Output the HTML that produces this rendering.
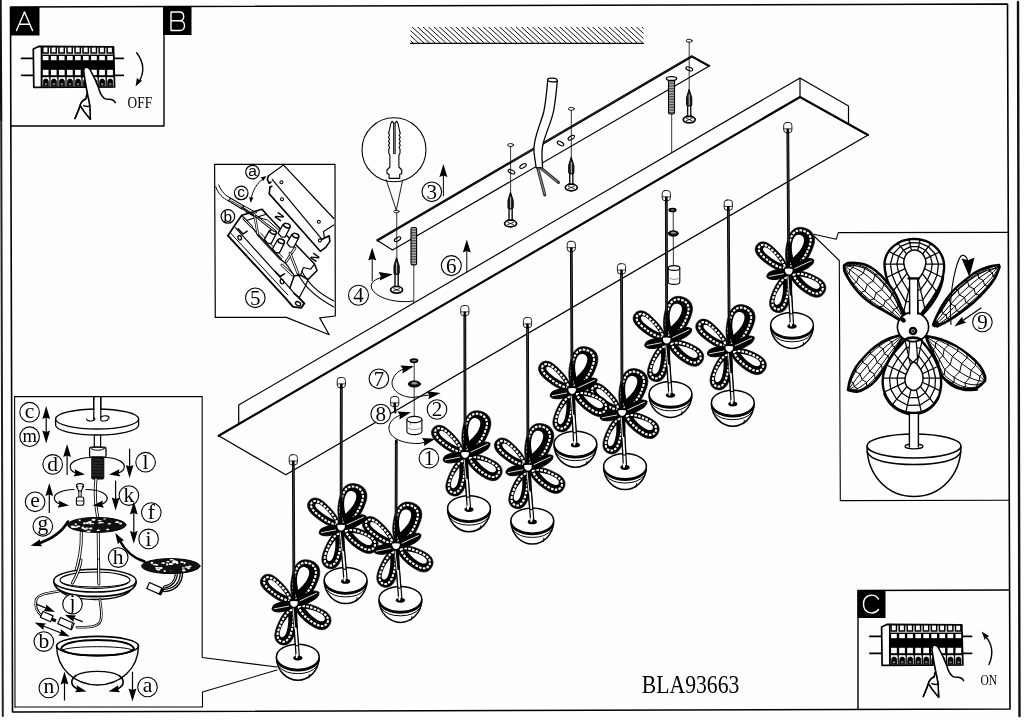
<!DOCTYPE html>
<html><head><meta charset="utf-8"><title>BLA93663</title>
<style>html,body{margin:0;padding:0;background:#fff;}svg{display:block;will-change:transform;}</style></head>
<body>
<svg width="1024" height="720" viewBox="0 0 1024 720" stroke-linecap="round" stroke-linejoin="round">
<defs><clipPath id="tclip"><rect x="215" y="165" width="119.6" height="152"/></clipPath><pattern id="thr" width="6" height="1.6" patternUnits="userSpaceOnUse"><rect width="6" height="1.6" fill="#bbb"/><rect width="6" height="0.8" fill="#444"/></pattern><clipPath id="hclip"><rect x="410.5" y="27" width="233" height="16.5"/></clipPath></defs>
<rect width="1024" height="720" fill="#fefefe"/>
<line x1="0.6" y1="0.0" x2="1.2" y2="120.0" stroke="#111" stroke-width="2.2" />
<line x1="1.2" y1="120.0" x2="2.8" y2="716.0" stroke="#222" stroke-width="2.0" />
<line x1="1018.0" y1="2.0" x2="1019.5" y2="716.0" stroke="#111" stroke-width="2.4" />
<path d="M10.5,7 L1007.5,4 L1010,709 L12.5,712 Z" stroke="#000" stroke-width="1.6" fill="none" />
<path d="M10.7,126 L164,126 L164,7" stroke="#000" stroke-width="1.4" fill="none" />
<rect x="10" y="7" width="29.5" height="28.5" fill="#000"/>
<rect x="163" y="6.5" width="28.5" height="28.5" fill="#000"/>
<path d="M16.5,30.5 L24.5,12 L32.5,30.5 M19.3,24.3 L29.7,24.3" stroke="#fff" stroke-width="1.4" fill="none" />
<path d="M171,12 L171,30.5 L180,30.5 C186,30.5 186,20.8 180,20.8 L171,20.8 M180,20.8 C185,20.8 185,12 179.5,12 L171,12" stroke="#fff" stroke-width="1.4" fill="none" />
<path d="M858,709 L858,590.5 L1009.5,590" stroke="#000" stroke-width="1.4" fill="none" />
<rect x="857.5" y="590" width="28" height="28" fill="#000"/>
<path d="M878.5,599 C874,592.5 863.5,594.5 863.5,604 C863.5,613.5 874,615.5 878.5,609.5" stroke="#fff" stroke-width="1.4" fill="none" />
<g transform="translate(0,0)">
<line x1="21.6" y1="58.4" x2="33.3" y2="58.4" stroke="#000" stroke-width="1.7" />
<line x1="114.6" y1="58.4" x2="123.3" y2="58.4" stroke="#000" stroke-width="1.7" />
<line x1="21.6" y1="75.3" x2="33.3" y2="75.3" stroke="#000" stroke-width="1.7" />
<line x1="114.6" y1="75.3" x2="123.3" y2="75.3" stroke="#000" stroke-width="1.7" />
<path d="M33.3,49 L38.5,46.4 L113.5,46.8 L114.6,87 L33.8,87.3 Z" stroke="#000" stroke-width="1.7" fill="#fff" />
<line x1="41.4" y1="46.6" x2="41.4" y2="87.0" stroke="#000" stroke-width="1.5" />
<rect x="41.4" y="54.6" width="73" height="22.6" fill="#000"/>
<path d="M42.8,47.0 L42.8,53.0 L48.2,53.0 L48.2,47.0" stroke="#000" stroke-width="1.5" fill="none" stroke-linejoin="miter" stroke-linecap="butt"/>
<rect x="42.8" y="56.0" width="5.7" height="4.2" fill="#fff"/>
<rect x="42.8" y="69.8" width="5.7" height="5.4" fill="#fff"/>
<line x1="41.8" y1="77.2" x2="41.8" y2="87.0" stroke="#000" stroke-width="1.3" />
<path d="M43.3,86.6 L43.3,81.8 A2.5,2.8 0 0 1 48.3,81.8 L48.3,86.6 Z" stroke="#000" stroke-width="0.8" fill="#000" />
<ellipse cx="45.8" cy="84.2" rx="1.2" ry="1.3" stroke="#000" stroke-width="0" fill="#777" />
<path d="M50.9,47.0 L50.9,53.0 L56.3,53.0 L56.3,47.0" stroke="#000" stroke-width="1.5" fill="none" stroke-linejoin="miter" stroke-linecap="butt"/>
<rect x="50.9" y="56.0" width="5.7" height="4.2" fill="#fff"/>
<rect x="50.9" y="69.8" width="5.7" height="5.4" fill="#fff"/>
<line x1="49.9" y1="77.2" x2="49.9" y2="87.0" stroke="#000" stroke-width="1.3" />
<path d="M51.4,86.6 L51.4,81.8 A2.5,2.8 0 0 1 56.4,81.8 L56.4,86.6 Z" stroke="#000" stroke-width="0.8" fill="#000" />
<ellipse cx="53.9" cy="84.2" rx="1.2" ry="1.3" stroke="#000" stroke-width="0" fill="#777" />
<path d="M58.9,47.0 L58.9,53.0 L64.3,53.0 L64.3,47.0" stroke="#000" stroke-width="1.5" fill="none" stroke-linejoin="miter" stroke-linecap="butt"/>
<rect x="58.9" y="56.0" width="5.7" height="4.2" fill="#fff"/>
<rect x="58.9" y="69.8" width="5.7" height="5.4" fill="#fff"/>
<line x1="57.9" y1="77.2" x2="57.9" y2="87.0" stroke="#000" stroke-width="1.3" />
<path d="M59.4,86.6 L59.4,81.8 A2.5,2.8 0 0 1 64.4,81.8 L64.4,86.6 Z" stroke="#000" stroke-width="0.8" fill="#000" />
<ellipse cx="61.9" cy="84.2" rx="1.2" ry="1.3" stroke="#000" stroke-width="0" fill="#777" />
<path d="M67.0,47.0 L67.0,53.0 L72.3,53.0 L72.3,47.0" stroke="#000" stroke-width="1.5" fill="none" stroke-linejoin="miter" stroke-linecap="butt"/>
<rect x="67.0" y="56.0" width="5.7" height="4.2" fill="#fff"/>
<rect x="67.0" y="69.8" width="5.7" height="5.4" fill="#fff"/>
<line x1="66.0" y1="77.2" x2="66.0" y2="87.0" stroke="#000" stroke-width="1.3" />
<path d="M67.5,86.6 L67.5,81.8 A2.5,2.8 0 0 1 72.5,81.8 L72.5,86.6 Z" stroke="#000" stroke-width="0.8" fill="#000" />
<ellipse cx="70.0" cy="84.2" rx="1.2" ry="1.3" stroke="#000" stroke-width="0" fill="#777" />
<path d="M75.0,47.0 L75.0,53.0 L80.4,53.0 L80.4,47.0" stroke="#000" stroke-width="1.5" fill="none" stroke-linejoin="miter" stroke-linecap="butt"/>
<rect x="75.0" y="56.0" width="5.7" height="4.2" fill="#fff"/>
<rect x="75.0" y="69.8" width="5.7" height="5.4" fill="#fff"/>
<line x1="74.0" y1="77.2" x2="74.0" y2="87.0" stroke="#000" stroke-width="1.3" />
<path d="M75.5,86.6 L75.5,81.8 A2.5,2.8 0 0 1 80.5,81.8 L80.5,86.6 Z" stroke="#000" stroke-width="0.8" fill="#000" />
<ellipse cx="78.0" cy="84.2" rx="1.2" ry="1.3" stroke="#000" stroke-width="0" fill="#777" />
<path d="M83.0,47.0 L83.0,53.0 L88.4,53.0 L88.4,47.0" stroke="#000" stroke-width="1.5" fill="none" stroke-linejoin="miter" stroke-linecap="butt"/>
<rect x="83.0" y="56.0" width="5.7" height="4.2" fill="#fff"/>
<rect x="83.0" y="69.8" width="5.7" height="5.4" fill="#fff"/>
<line x1="82.0" y1="77.2" x2="82.0" y2="87.0" stroke="#000" stroke-width="1.3" />
<path d="M83.5,86.6 L83.5,81.8 A2.5,2.8 0 0 1 88.5,81.8 L88.5,86.6 Z" stroke="#000" stroke-width="0.8" fill="#000" />
<ellipse cx="86.0" cy="84.2" rx="1.2" ry="1.3" stroke="#000" stroke-width="0" fill="#777" />
<path d="M91.1,47.0 L91.1,53.0 L96.5,53.0 L96.5,47.0" stroke="#000" stroke-width="1.5" fill="none" stroke-linejoin="miter" stroke-linecap="butt"/>
<rect x="91.1" y="56.0" width="5.7" height="4.2" fill="#fff"/>
<rect x="91.1" y="69.8" width="5.7" height="5.4" fill="#fff"/>
<line x1="90.1" y1="77.2" x2="90.1" y2="87.0" stroke="#000" stroke-width="1.3" />
<path d="M91.6,86.6 L91.6,81.8 A2.5,2.8 0 0 1 96.6,81.8 L96.6,86.6 Z" stroke="#000" stroke-width="0.8" fill="#000" />
<ellipse cx="94.1" cy="84.2" rx="1.2" ry="1.3" stroke="#000" stroke-width="0" fill="#777" />
<path d="M99.2,47.0 L99.2,53.0 L104.6,53.0 L104.6,47.0" stroke="#000" stroke-width="1.5" fill="none" stroke-linejoin="miter" stroke-linecap="butt"/>
<rect x="99.2" y="56.0" width="5.7" height="4.2" fill="#fff"/>
<rect x="99.2" y="69.8" width="5.7" height="5.4" fill="#fff"/>
<line x1="98.2" y1="77.2" x2="98.2" y2="87.0" stroke="#000" stroke-width="1.3" />
<path d="M99.7,86.6 L99.7,81.8 A2.5,2.8 0 0 1 104.7,81.8 L104.7,86.6 Z" stroke="#000" stroke-width="0.8" fill="#000" />
<ellipse cx="102.2" cy="84.2" rx="1.2" ry="1.3" stroke="#000" stroke-width="0" fill="#777" />
<path d="M107.2,47.0 L107.2,53.0 L112.6,53.0 L112.6,47.0" stroke="#000" stroke-width="1.5" fill="none" stroke-linejoin="miter" stroke-linecap="butt"/>
<rect x="107.2" y="56.0" width="5.7" height="4.2" fill="#fff"/>
<rect x="107.2" y="69.8" width="5.7" height="5.4" fill="#fff"/>
<line x1="106.2" y1="77.2" x2="106.2" y2="87.0" stroke="#000" stroke-width="1.3" />
<path d="M107.7,86.6 L107.7,81.8 A2.5,2.8 0 0 1 112.7,81.8 L112.7,86.6 Z" stroke="#000" stroke-width="0.8" fill="#000" />
<ellipse cx="110.2" cy="84.2" rx="1.2" ry="1.3" stroke="#000" stroke-width="0" fill="#777" />
<path d="M85.0,67.5 C83.6,68.8 83.6,70.5 83.9,72.5 L85.3,82 L87.5,93.6 L89.7,105.3 L90.4,119.2 L83.8,111.1 L80.2,105.3 C81,102 83,100.2 85.8,98.6 L87,93.6 M80.2,105.3 C78.5,111 76.5,114.5 75,118.5" stroke="#000" stroke-width="1.5" fill="none" />
<path d="M85.0,67.5 C83.6,68.8 83.6,70.5 83.9,72.5 L85.3,82 L87.5,93.6 L89.7,105.3 L90.4,119.2 L83.8,111.1 L80.2,105.3 C81,102 83,100.2 85.8,98.6 L100,95 L98.5,87.7 L94.8,78.9 L91.1,71.6 C90,69 88,66.6 85,67.5 Z" stroke="none" stroke-width="0" fill="#fff" />
<path d="M85.0,67.5 C83.6,68.8 83.6,70.5 83.9,72.5 L85.3,82 L87.5,93.6 L89.7,105.3 L90.4,119.2 L83.8,111.1 L80.2,105.3 C81,102 83,100.2 86.2,98.8 M80.2,105.3 C78.5,111 76.5,114.5 75,118.5 M83.6,105.6 C86,106.6 88.5,106.6 90.2,106 M85.0,67.5 C88,66.6 90,69 91.1,71.6 L94.8,78.9 L98.5,87.7 C99.5,91.5 101.5,96 104.3,98.3 C107,100 110.5,98.8 112.6,100 C114,100.8 114.8,101.6 115.3,102.6" stroke="#000" stroke-width="1.5" fill="none" />
</g>
<g transform="translate(848.3,578)">
<line x1="21.6" y1="58.4" x2="33.3" y2="58.4" stroke="#000" stroke-width="1.7" />
<line x1="114.6" y1="58.4" x2="123.3" y2="58.4" stroke="#000" stroke-width="1.7" />
<line x1="21.6" y1="75.3" x2="33.3" y2="75.3" stroke="#000" stroke-width="1.7" />
<line x1="114.6" y1="75.3" x2="123.3" y2="75.3" stroke="#000" stroke-width="1.7" />
<path d="M33.3,49 L38.5,46.4 L113.5,46.8 L114.6,87 L33.8,87.3 Z" stroke="#000" stroke-width="1.7" fill="#fff" />
<line x1="41.4" y1="46.6" x2="41.4" y2="87.0" stroke="#000" stroke-width="1.5" />
<rect x="41.4" y="54.6" width="73" height="22.6" fill="#000"/>
<path d="M42.8,47.0 L42.8,53.0 L48.2,53.0 L48.2,47.0" stroke="#000" stroke-width="1.5" fill="none" stroke-linejoin="miter" stroke-linecap="butt"/>
<rect x="42.8" y="56.0" width="5.7" height="4.2" fill="#fff"/>
<rect x="42.8" y="69.8" width="5.7" height="5.4" fill="#fff"/>
<line x1="41.8" y1="77.2" x2="41.8" y2="87.0" stroke="#000" stroke-width="1.3" />
<path d="M43.3,86.6 L43.3,81.8 A2.5,2.8 0 0 1 48.3,81.8 L48.3,86.6 Z" stroke="#000" stroke-width="0.8" fill="#000" />
<ellipse cx="45.8" cy="84.2" rx="1.2" ry="1.3" stroke="#000" stroke-width="0" fill="#777" />
<path d="M50.9,47.0 L50.9,53.0 L56.3,53.0 L56.3,47.0" stroke="#000" stroke-width="1.5" fill="none" stroke-linejoin="miter" stroke-linecap="butt"/>
<rect x="50.9" y="56.0" width="5.7" height="4.2" fill="#fff"/>
<rect x="50.9" y="69.8" width="5.7" height="5.4" fill="#fff"/>
<line x1="49.9" y1="77.2" x2="49.9" y2="87.0" stroke="#000" stroke-width="1.3" />
<path d="M51.4,86.6 L51.4,81.8 A2.5,2.8 0 0 1 56.4,81.8 L56.4,86.6 Z" stroke="#000" stroke-width="0.8" fill="#000" />
<ellipse cx="53.9" cy="84.2" rx="1.2" ry="1.3" stroke="#000" stroke-width="0" fill="#777" />
<path d="M58.9,47.0 L58.9,53.0 L64.3,53.0 L64.3,47.0" stroke="#000" stroke-width="1.5" fill="none" stroke-linejoin="miter" stroke-linecap="butt"/>
<rect x="58.9" y="56.0" width="5.7" height="4.2" fill="#fff"/>
<rect x="58.9" y="69.8" width="5.7" height="5.4" fill="#fff"/>
<line x1="57.9" y1="77.2" x2="57.9" y2="87.0" stroke="#000" stroke-width="1.3" />
<path d="M59.4,86.6 L59.4,81.8 A2.5,2.8 0 0 1 64.4,81.8 L64.4,86.6 Z" stroke="#000" stroke-width="0.8" fill="#000" />
<ellipse cx="61.9" cy="84.2" rx="1.2" ry="1.3" stroke="#000" stroke-width="0" fill="#777" />
<path d="M67.0,47.0 L67.0,53.0 L72.3,53.0 L72.3,47.0" stroke="#000" stroke-width="1.5" fill="none" stroke-linejoin="miter" stroke-linecap="butt"/>
<rect x="67.0" y="56.0" width="5.7" height="4.2" fill="#fff"/>
<rect x="67.0" y="69.8" width="5.7" height="5.4" fill="#fff"/>
<line x1="66.0" y1="77.2" x2="66.0" y2="87.0" stroke="#000" stroke-width="1.3" />
<path d="M67.5,86.6 L67.5,81.8 A2.5,2.8 0 0 1 72.5,81.8 L72.5,86.6 Z" stroke="#000" stroke-width="0.8" fill="#000" />
<ellipse cx="70.0" cy="84.2" rx="1.2" ry="1.3" stroke="#000" stroke-width="0" fill="#777" />
<path d="M75.0,47.0 L75.0,53.0 L80.4,53.0 L80.4,47.0" stroke="#000" stroke-width="1.5" fill="none" stroke-linejoin="miter" stroke-linecap="butt"/>
<rect x="75.0" y="56.0" width="5.7" height="4.2" fill="#fff"/>
<rect x="75.0" y="69.8" width="5.7" height="5.4" fill="#fff"/>
<line x1="74.0" y1="77.2" x2="74.0" y2="87.0" stroke="#000" stroke-width="1.3" />
<path d="M75.5,86.6 L75.5,81.8 A2.5,2.8 0 0 1 80.5,81.8 L80.5,86.6 Z" stroke="#000" stroke-width="0.8" fill="#000" />
<ellipse cx="78.0" cy="84.2" rx="1.2" ry="1.3" stroke="#000" stroke-width="0" fill="#777" />
<path d="M83.0,47.0 L83.0,53.0 L88.4,53.0 L88.4,47.0" stroke="#000" stroke-width="1.5" fill="none" stroke-linejoin="miter" stroke-linecap="butt"/>
<rect x="83.0" y="56.0" width="5.7" height="4.2" fill="#fff"/>
<rect x="83.0" y="69.8" width="5.7" height="5.4" fill="#fff"/>
<line x1="82.0" y1="77.2" x2="82.0" y2="87.0" stroke="#000" stroke-width="1.3" />
<path d="M83.5,86.6 L83.5,81.8 A2.5,2.8 0 0 1 88.5,81.8 L88.5,86.6 Z" stroke="#000" stroke-width="0.8" fill="#000" />
<ellipse cx="86.0" cy="84.2" rx="1.2" ry="1.3" stroke="#000" stroke-width="0" fill="#777" />
<path d="M91.1,47.0 L91.1,53.0 L96.5,53.0 L96.5,47.0" stroke="#000" stroke-width="1.5" fill="none" stroke-linejoin="miter" stroke-linecap="butt"/>
<rect x="91.1" y="56.0" width="5.7" height="4.2" fill="#fff"/>
<rect x="91.1" y="69.8" width="5.7" height="5.4" fill="#fff"/>
<line x1="90.1" y1="77.2" x2="90.1" y2="87.0" stroke="#000" stroke-width="1.3" />
<path d="M91.6,86.6 L91.6,81.8 A2.5,2.8 0 0 1 96.6,81.8 L96.6,86.6 Z" stroke="#000" stroke-width="0.8" fill="#000" />
<ellipse cx="94.1" cy="84.2" rx="1.2" ry="1.3" stroke="#000" stroke-width="0" fill="#777" />
<path d="M99.2,47.0 L99.2,53.0 L104.6,53.0 L104.6,47.0" stroke="#000" stroke-width="1.5" fill="none" stroke-linejoin="miter" stroke-linecap="butt"/>
<rect x="99.2" y="56.0" width="5.7" height="4.2" fill="#fff"/>
<rect x="99.2" y="69.8" width="5.7" height="5.4" fill="#fff"/>
<line x1="98.2" y1="77.2" x2="98.2" y2="87.0" stroke="#000" stroke-width="1.3" />
<path d="M99.7,86.6 L99.7,81.8 A2.5,2.8 0 0 1 104.7,81.8 L104.7,86.6 Z" stroke="#000" stroke-width="0.8" fill="#000" />
<ellipse cx="102.2" cy="84.2" rx="1.2" ry="1.3" stroke="#000" stroke-width="0" fill="#777" />
<path d="M107.2,47.0 L107.2,53.0 L112.6,53.0 L112.6,47.0" stroke="#000" stroke-width="1.5" fill="none" stroke-linejoin="miter" stroke-linecap="butt"/>
<rect x="107.2" y="56.0" width="5.7" height="4.2" fill="#fff"/>
<rect x="107.2" y="69.8" width="5.7" height="5.4" fill="#fff"/>
<line x1="106.2" y1="77.2" x2="106.2" y2="87.0" stroke="#000" stroke-width="1.3" />
<path d="M107.7,86.6 L107.7,81.8 A2.5,2.8 0 0 1 112.7,81.8 L112.7,86.6 Z" stroke="#000" stroke-width="0.8" fill="#000" />
<ellipse cx="110.2" cy="84.2" rx="1.2" ry="1.3" stroke="#000" stroke-width="0" fill="#777" />
<path d="M85.0,67.5 C83.6,68.8 83.6,70.5 83.9,72.5 L85.3,82 L87.5,93.6 L89.7,105.3 L90.4,119.2 L83.8,111.1 L80.2,105.3 C81,102 83,100.2 85.8,98.6 L87,93.6 M80.2,105.3 C78.5,111 76.5,114.5 75,118.5" stroke="#000" stroke-width="1.5" fill="none" />
<path d="M85.0,67.5 C83.6,68.8 83.6,70.5 83.9,72.5 L85.3,82 L87.5,93.6 L89.7,105.3 L90.4,119.2 L83.8,111.1 L80.2,105.3 C81,102 83,100.2 85.8,98.6 L100,95 L98.5,87.7 L94.8,78.9 L91.1,71.6 C90,69 88,66.6 85,67.5 Z" stroke="none" stroke-width="0" fill="#fff" />
<path d="M85.0,67.5 C83.6,68.8 83.6,70.5 83.9,72.5 L85.3,82 L87.5,93.6 L89.7,105.3 L90.4,119.2 L83.8,111.1 L80.2,105.3 C81,102 83,100.2 86.2,98.8 M80.2,105.3 C78.5,111 76.5,114.5 75,118.5 M83.6,105.6 C86,106.6 88.5,106.6 90.2,106 M85.0,67.5 C88,66.6 90,69 91.1,71.6 L94.8,78.9 L98.5,87.7 C99.5,91.5 101.5,96 104.3,98.3 C107,100 110.5,98.8 112.6,100 C114,100.8 114.8,101.6 115.3,102.6" stroke="#000" stroke-width="1.5" fill="none" />
</g>
<path d="M136.6,52.8 C144.5,63 144.5,73 138.6,82.5" stroke="#000" stroke-width="1.4" fill="none" />
<polygon points="135.6,86.6 136.9,77.7 139.1,80.0 142.2,80.5" fill="#000"/>
<text x="127.6" y="107.6" font-family="Liberation Serif" font-size="17" textLength="24.5" lengthAdjust="spacingAndGlyphs">OFF</text>
<path d="M989,664.5 C994,653 991.5,643 985.2,636" stroke="#000" stroke-width="1.4" fill="none" />
<polygon points="981.6,631.6 989.4,636.2 986.4,637.3 984.8,640.0" fill="#000"/>
<text x="980.4" y="685" font-family="Liberation Serif" font-size="15.5" textLength="16.6" lengthAdjust="spacingAndGlyphs">ON</text>
<text x="641.8" y="693" font-family="Liberation Serif" font-size="25" textLength="97.5" lengthAdjust="spacingAndGlyphs">BLA93663</text>
<line x1="410.5" y1="43.3" x2="643.5" y2="43.3" stroke="#000" stroke-width="1.2" />
<g clip-path="url(#hclip)">
<line x1="387.0" y1="24.0" x2="409.0" y2="44.3" stroke="#111" stroke-width="1.0" />
<line x1="392.5" y1="24.0" x2="414.5" y2="44.3" stroke="#111" stroke-width="1.0" />
<line x1="397.9" y1="24.0" x2="419.9" y2="44.3" stroke="#111" stroke-width="1.0" />
<line x1="403.4" y1="24.0" x2="425.4" y2="44.3" stroke="#111" stroke-width="1.0" />
<line x1="408.9" y1="24.0" x2="430.9" y2="44.3" stroke="#111" stroke-width="1.0" />
<line x1="414.4" y1="24.0" x2="436.4" y2="44.3" stroke="#111" stroke-width="1.0" />
<line x1="419.8" y1="24.0" x2="441.8" y2="44.3" stroke="#111" stroke-width="1.0" />
<line x1="425.3" y1="24.0" x2="447.3" y2="44.3" stroke="#111" stroke-width="1.0" />
<line x1="430.8" y1="24.0" x2="452.8" y2="44.3" stroke="#111" stroke-width="1.0" />
<line x1="436.2" y1="24.0" x2="458.2" y2="44.3" stroke="#111" stroke-width="1.0" />
<line x1="441.7" y1="24.0" x2="463.7" y2="44.3" stroke="#111" stroke-width="1.0" />
<line x1="447.2" y1="24.0" x2="469.2" y2="44.3" stroke="#111" stroke-width="1.0" />
<line x1="452.6" y1="24.0" x2="474.6" y2="44.3" stroke="#111" stroke-width="1.0" />
<line x1="458.1" y1="24.0" x2="480.1" y2="44.3" stroke="#111" stroke-width="1.0" />
<line x1="463.6" y1="24.0" x2="485.6" y2="44.3" stroke="#111" stroke-width="1.0" />
<line x1="469.1" y1="24.0" x2="491.1" y2="44.3" stroke="#111" stroke-width="1.0" />
<line x1="474.5" y1="24.0" x2="496.5" y2="44.3" stroke="#111" stroke-width="1.0" />
<line x1="480.0" y1="24.0" x2="502.0" y2="44.3" stroke="#111" stroke-width="1.0" />
<line x1="485.5" y1="24.0" x2="507.5" y2="44.3" stroke="#111" stroke-width="1.0" />
<line x1="490.9" y1="24.0" x2="512.9" y2="44.3" stroke="#111" stroke-width="1.0" />
<line x1="496.4" y1="24.0" x2="518.4" y2="44.3" stroke="#111" stroke-width="1.0" />
<line x1="501.9" y1="24.0" x2="523.9" y2="44.3" stroke="#111" stroke-width="1.0" />
<line x1="507.3" y1="24.0" x2="529.3" y2="44.3" stroke="#111" stroke-width="1.0" />
<line x1="512.8" y1="24.0" x2="534.8" y2="44.3" stroke="#111" stroke-width="1.0" />
<line x1="518.3" y1="24.0" x2="540.3" y2="44.3" stroke="#111" stroke-width="1.0" />
<line x1="523.8" y1="24.0" x2="545.8" y2="44.3" stroke="#111" stroke-width="1.0" />
<line x1="529.2" y1="24.0" x2="551.2" y2="44.3" stroke="#111" stroke-width="1.0" />
<line x1="534.7" y1="24.0" x2="556.7" y2="44.3" stroke="#111" stroke-width="1.0" />
<line x1="540.2" y1="24.0" x2="562.2" y2="44.3" stroke="#111" stroke-width="1.0" />
<line x1="545.6" y1="24.0" x2="567.6" y2="44.3" stroke="#111" stroke-width="1.0" />
<line x1="551.1" y1="24.0" x2="573.1" y2="44.3" stroke="#111" stroke-width="1.0" />
<line x1="556.6" y1="24.0" x2="578.6" y2="44.3" stroke="#111" stroke-width="1.0" />
<line x1="562.0" y1="24.0" x2="584.0" y2="44.3" stroke="#111" stroke-width="1.0" />
<line x1="567.5" y1="24.0" x2="589.5" y2="44.3" stroke="#111" stroke-width="1.0" />
<line x1="573.0" y1="24.0" x2="595.0" y2="44.3" stroke="#111" stroke-width="1.0" />
<line x1="578.5" y1="24.0" x2="600.5" y2="44.3" stroke="#111" stroke-width="1.0" />
<line x1="583.9" y1="24.0" x2="605.9" y2="44.3" stroke="#111" stroke-width="1.0" />
<line x1="589.4" y1="24.0" x2="611.4" y2="44.3" stroke="#111" stroke-width="1.0" />
<line x1="594.9" y1="24.0" x2="616.9" y2="44.3" stroke="#111" stroke-width="1.0" />
<line x1="600.3" y1="24.0" x2="622.3" y2="44.3" stroke="#111" stroke-width="1.0" />
<line x1="605.8" y1="24.0" x2="627.8" y2="44.3" stroke="#111" stroke-width="1.0" />
<line x1="611.3" y1="24.0" x2="633.3" y2="44.3" stroke="#111" stroke-width="1.0" />
<line x1="616.7" y1="24.0" x2="638.7" y2="44.3" stroke="#111" stroke-width="1.0" />
<line x1="622.2" y1="24.0" x2="644.2" y2="44.3" stroke="#111" stroke-width="1.0" />
<line x1="627.7" y1="24.0" x2="649.7" y2="44.3" stroke="#111" stroke-width="1.0" />
<line x1="633.2" y1="24.0" x2="655.2" y2="44.3" stroke="#111" stroke-width="1.0" />
<line x1="638.6" y1="24.0" x2="660.6" y2="44.3" stroke="#111" stroke-width="1.0" />
<line x1="644.1" y1="24.0" x2="666.1" y2="44.3" stroke="#111" stroke-width="1.0" />
<line x1="649.6" y1="24.0" x2="671.6" y2="44.3" stroke="#111" stroke-width="1.0" />
<line x1="655.0" y1="24.0" x2="677.0" y2="44.3" stroke="#111" stroke-width="1.0" />
<line x1="660.5" y1="24.0" x2="682.5" y2="44.3" stroke="#111" stroke-width="1.0" />
</g>
<path d="M218.7,435.8 L800,97 L868,135" stroke="#000" stroke-width="2.2" fill="none" stroke-linejoin="miter"/>
<path d="M868,135 L285.8,474.7 L218.7,435.8" stroke="#000" stroke-width="1.3" fill="none" />
<path d="M238.7,424 L238.7,405 L800,78 L800,97 M800,78 L848.5,106 L848.5,123.5" stroke="#000" stroke-width="1.2" fill="none" />
<path d="M376.7,240 L691.7,55.7 L709.7,65.8 L392.5,250 Z" stroke="#000" stroke-width="1.2" fill="#fff" />
<path d="M377.4,240.9 L692,56.8 L709,66.4" stroke="#000" stroke-width="1.4" fill="none" />
<ellipse cx="397.5" cy="239.2" rx="3.6" ry="1.7" stroke="#000" stroke-width="1.1" fill="none" transform="rotate(-30 397.5 239.2)" />
<ellipse cx="511.5" cy="171.7" rx="3.6" ry="1.7" stroke="#000" stroke-width="1.1" fill="none" transform="rotate(25 511.5 171.7)" />
<ellipse cx="523.0" cy="166.0" rx="3.6" ry="1.7" stroke="#000" stroke-width="1.1" fill="none" transform="rotate(-30 523.0 166.0)" />
<ellipse cx="560.5" cy="143.5" rx="3.6" ry="1.7" stroke="#000" stroke-width="1.1" fill="none" transform="rotate(30 560.5 143.5)" />
<ellipse cx="571.3" cy="137.7" rx="3.6" ry="1.7" stroke="#000" stroke-width="1.1" fill="none" transform="rotate(-30 571.3 137.7)" />
<ellipse cx="689.3" cy="68.9" rx="3.6" ry="1.7" stroke="#000" stroke-width="1.1" fill="none" transform="rotate(20 689.3 68.9)" />
<ellipse cx="689.2" cy="40.8" rx="3.0" ry="1.5" stroke="#000" stroke-width="0.9" fill="none" />
<line x1="689.2" y1="42.3" x2="689.2" y2="91.7" stroke="#000" stroke-width="0.8" />
<path d="M689.2,89.7 L691.8,97.7 L691.8,104.7 L690.9,106.7 L690.9,114.6 L692.7,117.6 L685.7,117.6 L687.5,114.6 L687.5,106.7 L686.6,104.7 L686.6,97.7 Z" stroke="#000" stroke-width="1.0" fill="#1a1a1a" />
<line x1="689.2" y1="94.7" x2="689.2" y2="104.7" stroke="#ddd" stroke-width="0.9" />
<line x1="689.2" y1="107.2" x2="689.2" y2="115.6" stroke="#fff" stroke-width="1.7" />
<ellipse cx="689.2" cy="119.6" rx="6.0" ry="3.3" stroke="#000" stroke-width="1.7" fill="#fff" />
<path d="M686.2,118.4 L692.2,120.8 M686.2,120.8 L692.2,118.4" stroke="#000" stroke-width="0.8" fill="none" />
<ellipse cx="571.3" cy="108.8" rx="3.0" ry="1.5" stroke="#000" stroke-width="0.9" fill="none" />
<line x1="571.3" y1="110.3" x2="571.3" y2="159.5" stroke="#000" stroke-width="0.8" />
<path d="M571.3,157.5 L573.9,165.5 L573.9,172.5 L573.0,174.5 L573.0,182.5 L574.8,185.5 L567.8,185.5 L569.6,182.5 L569.6,174.5 L568.7,172.5 L568.7,165.5 Z" stroke="#000" stroke-width="1.0" fill="#1a1a1a" />
<line x1="571.3" y1="162.5" x2="571.3" y2="172.5" stroke="#ddd" stroke-width="0.9" />
<line x1="571.3" y1="175.0" x2="571.3" y2="183.5" stroke="#fff" stroke-width="1.7" />
<ellipse cx="571.3" cy="187.5" rx="6.0" ry="3.3" stroke="#000" stroke-width="1.7" fill="#fff" />
<path d="M568.3,186.3 L574.3,188.7 M568.3,188.7 L574.3,186.3" stroke="#000" stroke-width="0.8" fill="none" />
<ellipse cx="510.6" cy="145.0" rx="3.0" ry="1.5" stroke="#000" stroke-width="0.9" fill="none" />
<line x1="510.6" y1="146.5" x2="510.6" y2="194.5" stroke="#000" stroke-width="0.8" />
<path d="M510.6,192.5 L513.2,200.5 L513.2,207.5 L512.3,209.5 L512.3,218.5 L514.1,221.5 L507.1,221.5 L508.9,218.5 L508.9,209.5 L508.0,207.5 L508.0,200.5 Z" stroke="#000" stroke-width="1.0" fill="#1a1a1a" />
<line x1="510.6" y1="197.5" x2="510.6" y2="207.5" stroke="#ddd" stroke-width="0.9" />
<line x1="510.6" y1="210.0" x2="510.6" y2="219.5" stroke="#fff" stroke-width="1.7" />
<ellipse cx="510.6" cy="223.5" rx="6.0" ry="3.3" stroke="#000" stroke-width="1.7" fill="#fff" />
<path d="M507.6,222.3 L513.6,224.7 M507.6,224.7 L513.6,222.3" stroke="#000" stroke-width="0.8" fill="none" />
<line x1="671.7" y1="114.0" x2="671.7" y2="152.0" stroke="#000" stroke-width="0.8" />
<rect x="668.5" y="78.6" width="6.0" height="35.4" rx="1.5" fill="url(#thr)" stroke="#000" stroke-width="1.1"/>
<ellipse cx="671.5" cy="78.6" rx="5.2" ry="1.9" stroke="#000" stroke-width="1.3" fill="#fff" />
<line x1="413.8" y1="264.0" x2="413.8" y2="303.0" stroke="#000" stroke-width="0.8" />
<rect x="411.0" y="227.5" width="5.6" height="37.5" rx="1.5" fill="url(#thr)" stroke="#000" stroke-width="1.1"/>
<ellipse cx="396.5" cy="211.5" rx="2.6" ry="1.3" stroke="#000" stroke-width="0.9" fill="none" />
<line x1="396.7" y1="213.0" x2="396.9" y2="262.0" stroke="#000" stroke-width="0.8" />
<path d="M396.6,258.0 L399.2,266.0 L399.2,273.0 L398.3,275.0 L398.3,284.8 L400.1,287.8 L393.1,287.8 L394.9,284.8 L394.9,275.0 L394.0,273.0 L394.0,266.0 Z" stroke="#000" stroke-width="1.0" fill="#1a1a1a" />
<line x1="396.6" y1="263.0" x2="396.6" y2="273.0" stroke="#ddd" stroke-width="0.9" />
<line x1="396.6" y1="275.5" x2="396.6" y2="285.8" stroke="#fff" stroke-width="1.7" />
<ellipse cx="396.6" cy="289.8" rx="6.0" ry="3.3" stroke="#000" stroke-width="1.7" fill="#fff" />
<path d="M393.6,288.6 L399.6,291.0 M393.6,291.0 L399.6,288.6" stroke="#000" stroke-width="0.8" fill="none" />
<path d="M547.7,80 C546.5,95 545.5,104 543.7,112 C540,126 532.5,140 534,152 C534.6,158 535.5,163 536.2,168 L542.6,167.5 C542.2,160 541,152 543,144 C546,132 551.5,122 553.8,110 C555.5,100 556.5,90 557.3,81" stroke="#000" stroke-width="1.3" fill="#fff" />
<ellipse cx="552.5" cy="80.0" rx="4.9" ry="1.9" stroke="#000" stroke-width="1.3" fill="#fff" transform="rotate(5 552.5 80.0)" />
<line x1="538.0" y1="169.0" x2="544.8" y2="195.0" stroke="#333" stroke-width="3.0" />
<line x1="541.5" y1="168.5" x2="558.5" y2="182.5" stroke="#333" stroke-width="3.0" />
<line x1="538.2" y1="170.0" x2="544.6" y2="194.0" stroke="#bbb" stroke-width="0.7" />
<line x1="542.5" y1="169.5" x2="557.6" y2="182.0" stroke="#bbb" stroke-width="0.7" />
<ellipse cx="394.0" cy="149.8" rx="32.0" ry="32.0" stroke="#000" stroke-width="1.1" fill="#fff" />
<path d="M386.2,179.8 L396.3,210.3 L402.6,180.2" stroke="#000" stroke-width="0.9" fill="none" />
<path d="M395.1,123.0 L396.8,121.2 L398.0,123.5 L399.7,131.5 L400.3,133.5 L399.2,135.0 L400.3,137.5 L399.2,139.0 L400.3,141.5 L399.2,143.0 L400.3,145.5 L399.2,147.0 L400.1,150.0 L399.9,153.5 L398.9,155.5 L398.9,167.0 L401.8,170.0 L401.8,173.6 L399.7,174.2 L399.7,178.4 L389.1,178.4 L389.1,174.2 L387.0,173.6 L387.0,170.0 L389.9,167.0 L389.9,155.5 L388.9,153.5 L388.7,150.0 L389.6,147.0 L388.5,145.5 L389.6,143.0 L388.5,141.5 L389.6,139.0 L388.5,137.5 L389.6,135.0 L388.5,133.5 L389.1,131.5 L390.8,123.5 L392.0,121.2 L393.7,123.0 L393.7,153.5 L395.1,153.5 Z" stroke="#000" stroke-width="1.1" fill="#fff" />
<line x1="394.4" y1="124.0" x2="394.4" y2="153.0" stroke="#888" stroke-width="0.7" />
<ellipse cx="431.8" cy="191.8" rx="9.8" ry="9.8" stroke="#000" stroke-width="1.1" fill="#fff" />
<text x="431.8" y="198.7" font-family="Liberation Serif" font-size="21" text-anchor="middle" fill="#000" >3</text>
<line x1="443.4" y1="196.0" x2="443.4" y2="171.8" stroke="#000" stroke-width="1.0" />
<polygon points="443.4,164.0 447.4,177.0 443.4,175.4 439.4,177.0" fill="#000"/>
<ellipse cx="451.3" cy="265.6" rx="10.0" ry="10.0" stroke="#000" stroke-width="1.1" fill="#fff" />
<text x="451.3" y="272.5" font-family="Liberation Serif" font-size="21" text-anchor="middle" fill="#000" >6</text>
<line x1="466.8" y1="272.0" x2="466.8" y2="247.3" stroke="#000" stroke-width="1.0" />
<polygon points="466.8,239.5 470.8,252.5 466.8,250.9 462.8,252.5" fill="#000"/>
<ellipse cx="358.5" cy="295.3" rx="10.0" ry="10.0" stroke="#000" stroke-width="1.1" fill="#fff" />
<text x="358.5" y="302.2" font-family="Liberation Serif" font-size="21" text-anchor="middle" fill="#000" >4</text>
<line x1="372.2" y1="281.0" x2="372.2" y2="255.3" stroke="#000" stroke-width="1.0" />
<polygon points="372.2,247.5 376.2,260.5 372.2,258.9 368.2,260.5" fill="#000"/>
<path d="M413.5,301 C398,303.5 376,299 371.5,288 C370,282.5 375,279 382,277.5" stroke="#000" stroke-width="1.0" fill="none" />
<polygon points="393.0,274.3 379.7,280.4 380.8,276.0 378.6,272.1" fill="#000"/>
<path d="M214.6,164.4 L335,164.4 L335.3,316 L319.7,317.9 L329.2,334.7 L286.4,317.4 L215.3,317.4 Z" stroke="#000" stroke-width="1.2" fill="#fff" />
<g clip-path="url(#tclip)">
<path d="M268.5,175.8 L283.5,165.1 L333.8,218.5 " stroke="#000" stroke-width="1.2" fill="none" />
<path d="M268.5,175.8 L267.3,179.4 L269.2,183.3 L270.9,182.0 " stroke="#000" stroke-width="1.6" fill="none" />
<path d="M272.2,179.4 L322.0,239.3 " stroke="#000" stroke-width="1.2" fill="none" />
<path d="M270.0,187.1 L269.2,193.9 L271.3,196.1 L320.3,251.3 L325.7,247.4 L329.9,241.4 L329.1,235.7 L322.2,239.3 " stroke="#000" stroke-width="1.6" fill="none" />
<path d="M271.8,186.2 L270.0,187.1 " stroke="#000" stroke-width="1.6" fill="none" />
<path d="M333.8,225.0 L323.5,231.6 L324.4,237.8 " stroke="#000" stroke-width="1.2" fill="none" />
<ellipse cx="281.4" cy="182.2" rx="1.5" ry="1.5" stroke="#000" stroke-width="1.1" fill="none" />
<ellipse cx="282.0" cy="199.3" rx="1.5" ry="1.5" stroke="#000" stroke-width="1.1" fill="none" />
<ellipse cx="318.8" cy="221.8" rx="1.5" ry="1.5" stroke="#000" stroke-width="1.1" fill="none" />
<ellipse cx="319.9" cy="240.4" rx="1.5" ry="1.5" stroke="#000" stroke-width="1.1" fill="none" />
<path d="M263.6,178.1 C256.8,183.3 252.5,190.7 251.0,199.3 " stroke="#000" stroke-width="1.0" fill="none" />
<polygon points="266.6,176.0 263.0,181.2 262.3,179.0 260.4,177.6" fill="#000"/>
<polygon points="250.6,202.9 249.1,196.7 251.2,197.7 253.5,197.2" fill="#000"/>
<path d="M215.7,186.7 C218.3,193.9 222.6,198.2 228.5,200.8 " stroke="#000" stroke-width="1.0" fill="none" />
<path d="M218.7,185.0 C221.3,191.4 225.1,195.7 230.7,198.2 " stroke="#000" stroke-width="1.0" fill="none" />
<path d="M228.5,200.8 L230.7,198.2 L243.9,205.9 L242.2,209.3 Z" stroke="#000" stroke-width="1.1" fill="#fff" />
<path d="M231.1,200.8 L242.2,207.2 " stroke="#000" stroke-width="0.8" fill="none" />
<path d="M242.2,207.9 L253.6,215.3 " stroke="#222" stroke-width="2.6" fill="none" />
<path d="M243.9,205.9 L256.8,212.8 " stroke="#000" stroke-width="1.0" fill="none" />
<path d="M246.1,212.1 L260.0,217.5 " stroke="#000" stroke-width="1.0" fill="none" />
<path d="M227.9,235.7 L234.3,226.0 L241.8,215.3 L262.1,209.3 L266.6,214.5 " stroke="#000" stroke-width="1.7" fill="none" />
<path d="M227.9,235.7 L285.7,298.3 L293.1,306.9 L301.3,307.7 L304.3,303.5 L299.1,297.9 L294.4,293.6 " stroke="#000" stroke-width="1.9" fill="none" />
<path d="M230.5,232.9 L287.8,294.9 " stroke="#000" stroke-width="1.0" fill="none" />
<path d="M235.4,227.7 L289.9,288.1 L294.4,293.6 " stroke="#000" stroke-width="1.2" fill="none" />
<path d="M241.8,215.3 L246.5,220.5 L265.3,214.5 " stroke="#000" stroke-width="1.2" fill="none" />
<path d="M246.5,220.5 L257.9,234.6 " stroke="#000" stroke-width="1.2" fill="none" />
<path d="M257.9,234.6 L280.7,259.2 " stroke="#222" stroke-width="2.6" fill="none" />
<path d="M260.6,232.9 L282.9,257.3 " stroke="#000" stroke-width="0.9" fill="none" />
<path d="M266.6,214.5 L284.6,233.5 L299.6,248.5 L314.5,264.1 L317.1,270.5 L308.1,279.5 L300.6,275.2 L294.2,275.7 L289.9,288.1 " stroke="#000" stroke-width="1.5" fill="none" />
<path d="M300.6,275.2 L303.4,267.5 L310.7,269.2 L314.5,264.1 " stroke="#000" stroke-width="1.1" fill="none" />
<path d="M280.7,259.2 L286.7,264.5 L294.2,275.7 " stroke="#000" stroke-width="1.2" fill="none" />
<path d="M308.1,279.5 L304.9,287.0 L299.1,297.9 " stroke="#000" stroke-width="1.2" fill="none" />
<ellipse cx="239.7" cy="237.8" rx="1.7" ry="2.3" stroke="#000" stroke-width="1.3" fill="none" transform="rotate(-20 239.7 237.8)" />
<ellipse cx="282.0" cy="281.6" rx="1.7" ry="2.3" stroke="#000" stroke-width="1.3" fill="none" transform="rotate(-20 282.0 281.6)" />
<ellipse cx="298.1" cy="303.7" rx="2.8" ry="1.8" stroke="#000" stroke-width="1.3" fill="none" transform="rotate(30 298.1 303.7)" />
<path d="M269.4,230.6 L264.4,239.4 L267.5,243.1 L271.2,243.5 L276.2,233.8 Z" stroke="#000" stroke-width="1.3" fill="#fff" />
<ellipse cx="273.1" cy="231.9" rx="3.4" ry="2.1" stroke="#000" stroke-width="1.5" fill="#fff" transform="rotate(22 273.1 231.9)" />
<path d="M283.1,224.4 L278.1,233.1 L281.2,236.9 L285.0,237.2 L290.0,227.5 Z" stroke="#000" stroke-width="1.3" fill="#fff" />
<ellipse cx="286.9" cy="225.6" rx="3.4" ry="2.1" stroke="#000" stroke-width="1.5" fill="#fff" transform="rotate(22 286.9 225.6)" />
<path d="M291.9,234.4 L286.9,243.1 L290.0,246.9 L293.8,247.2 L298.8,237.5 Z" stroke="#000" stroke-width="1.3" fill="#fff" />
<ellipse cx="295.6" cy="235.6" rx="3.4" ry="2.1" stroke="#000" stroke-width="1.5" fill="#fff" transform="rotate(22 295.6 235.6)" />
<path d="M277.5,240.0 L272.5,248.8 L275.6,252.5 L279.4,252.9 L284.4,243.1 Z" stroke="#000" stroke-width="1.3" fill="#fff" />
<ellipse cx="281.2" cy="241.2" rx="3.4" ry="2.1" stroke="#000" stroke-width="1.5" fill="#fff" transform="rotate(22 281.2 241.2)" />
<path d="M254.4,214.4 L257.8,233.8 " stroke="#111" stroke-width="2.6" fill="none" />
<path d="M254.4,214.4 L257.8,233.8 " stroke="#fff" stroke-width="1.0" fill="none" />
<path d="M256.2,216.2 L266.2,224.4 L274.4,230.6 " stroke="#111" stroke-width="2.6" fill="none" />
<path d="M256.2,216.2 L266.2,224.4 L274.4,230.6 " stroke="#fff" stroke-width="1.0" fill="none" />
<path d="M243.8,218.8 L251.9,226.9 " stroke="#111" stroke-width="2.6" fill="none" />
<path d="M243.8,218.8 L251.9,226.9 " stroke="#fff" stroke-width="1.0" fill="none" />
<path d="M250.0,213.8 L257.5,217.5 L267.5,220.0 L280.0,231.2 " stroke="#000" stroke-width="1.0" fill="none" />
<path d="M286.2,261.5 L295.0,248.1 " stroke="#111" stroke-width="2.8" fill="none" />
<path d="M286.2,261.5 L295.0,248.1 " stroke="#fff" stroke-width="1.1" fill="none" />
<path d="M290.0,253.1 L298.1,273.8 " stroke="#111" stroke-width="2.8" fill="none" />
<path d="M290.0,253.1 L298.1,273.8 " stroke="#fff" stroke-width="1.1" fill="none" />
<path d="M281.9,265.0 L292.5,275.0 " stroke="#111" stroke-width="2.8" fill="none" />
<path d="M281.9,265.0 L292.5,275.0 " stroke="#fff" stroke-width="1.1" fill="none" />
<text x="279.2" y="219.9" font-family="Liberation Sans" font-size="11" text-anchor="middle" fill="#000" font-weight="bold" transform="rotate(125 279.2 216.4)">N</text>
<text x="314.5" y="260.8" font-family="Liberation Sans" font-size="11" text-anchor="middle" fill="#000" font-weight="bold" transform="rotate(125 314.5 257.3)">N</text>
<path d="M238.1,228.8 L243.1,234.0 L247.2,231.2 " stroke="#000" stroke-width="1.5" fill="none" />
<path d="M275.0,271.2 L280.0,276.5 L284.5,273.8 " stroke="#000" stroke-width="1.5" fill="none" />
<path d="M297.9,273.5 C303.8,285.9 314.5,296.6 333.8,306.9 " stroke="#000" stroke-width="1.1" fill="none" />
<path d="M301.7,271.0 C308.1,283.8 318.8,293.4 333.8,300.9 " stroke="#000" stroke-width="1.1" fill="none" />
</g>
<ellipse cx="252.5" cy="172.1" rx="6.8" ry="6.8" stroke="#000" stroke-width="1.2" fill="#fff" />
<text x="252.5" y="176.3" font-family="Liberation Sans" font-size="15.5" text-anchor="middle" fill="#000" >a</text>
<ellipse cx="241.2" cy="192.9" rx="6.8" ry="6.8" stroke="#000" stroke-width="1.2" fill="#fff" />
<text x="241.2" y="197.1" font-family="Liberation Sans" font-size="15.5" text-anchor="middle" fill="#000" >c</text>
<ellipse cx="227.9" cy="216.4" rx="6.8" ry="6.8" stroke="#000" stroke-width="1.2" fill="#fff" />
<text x="227.9" y="221.6" font-family="Liberation Sans" font-size="15.5" text-anchor="middle" fill="#000" >b</text>
<ellipse cx="255.3" cy="297.8" rx="9.8" ry="9.8" stroke="#000" stroke-width="1.1" fill="#fff" />
<text x="255.3" y="304.7" font-family="Liberation Serif" font-size="21" text-anchor="middle" fill="#000" >5</text>
<path d="M770.6,326.0 C771.0,339.0 781.0,348.4 792.0,348.4 C803.0,348.4 813.0,339.0 813.4,326.0" stroke="#000" stroke-width="1.5" fill="#fff" />
<path d="M773.0,334.6 A21,12.6 0 0 0 811.0,334.6" stroke="#000" stroke-width="1.0" fill="none" />
<path d="M771.0,328.6 A21.4,12.6 0 0 0 813.0,328.6" stroke="#000" stroke-width="1.9" fill="none" />
<ellipse cx="792.0" cy="325.0" rx="21.4" ry="12.6" stroke="#000" stroke-width="1.5" fill="#fff" />
<line x1="803.5" y1="342.5" x2="803.0" y2="346.0" stroke="#000" stroke-width="0.9" />
<line x1="788.8" y1="272.0" x2="792.0" y2="326.0" stroke="#000" stroke-width="4.4" />
<line x1="788.8" y1="272.0" x2="792.0" y2="325.5" stroke="#fff" stroke-width="2.0" />
<ellipse cx="792.0" cy="326.3" rx="4.6" ry="2.4" stroke="#000" stroke-width="0" fill="#000" />
<line x1="791.0" y1="323.0" x2="791.0" y2="325.5" stroke="#fff" stroke-width="2.0" />
<g transform="translate(788.8,272.0) rotate(-139.0)">
<path d="M0.00,0.00 C5.04,-5.10 15.12,-8.50 29.40,-8.50 C37.80,-8.50 42.00,-5.10 42.00,0.00 C42.00,5.10 37.80,8.50 29.40,8.50 C15.12,8.50 5.04,5.10 0.00,0.00 Z" fill="#000" stroke="#000" stroke-width="0.6"/>
<path d="M5.00,0.38 C9.07,-2.87 17.20,-5.03 28.73,-5.03 C35.51,-5.03 38.90,-2.87 38.90,0.38 C38.90,3.62 35.51,5.78 28.73,5.78 C17.20,5.78 9.07,3.62 5.00,0.38 Z" fill="none" stroke="#fff" stroke-width="2.1" stroke-dasharray="2.6 1.3" stroke-linecap="butt"/>
<path d="M11.00,1.50 C13.88,0.85 19.64,-1.20 27.80,-1.20 C32.60,-1.20 35.00,-0.12 35.00,1.50 C35.00,3.12 32.60,4.20 27.80,4.20 C19.64,4.20 13.88,2.15 11.00,1.50 Z" fill="#fff" stroke="none"/>
</g>
<g transform="translate(788.8,272.0) rotate(-72.0)">
<path d="M0.00,2.20 C5.62,-5.75 16.85,-11.05 32.76,-11.05 C42.12,-11.05 46.80,-5.75 46.80,2.20 C46.80,10.15 42.12,15.45 32.76,15.45 C16.85,15.45 5.62,10.15 0.00,2.20 Z" fill="#000" stroke="#000" stroke-width="0.6"/>
<path d="M5.00,1.55 C9.64,-4.54 18.93,-8.60 32.09,-8.60 C39.83,-8.60 43.70,-4.54 43.70,1.55 C43.70,7.64 39.83,11.70 32.09,11.70 C18.93,11.70 9.64,7.64 5.00,1.55 Z" fill="none" stroke="#fff" stroke-width="2.1" stroke-dasharray="2.6 1.3" stroke-linecap="butt"/>
<path d="M15.00,-0.40 C17.86,-1.72 23.57,-5.90 31.66,-5.90 C36.42,-5.90 38.80,-3.70 38.80,-0.40 C38.80,2.90 36.42,5.10 31.66,5.10 C23.57,5.10 17.86,0.92 15.00,-0.40 Z" fill="#fff" stroke="none"/>
</g>
<line x1="787.8" y1="130.5" x2="788.8" y2="272.0" stroke="#000" stroke-width="2.8" />
<line x1="787.8" y1="133.5" x2="788.8" y2="242.0" stroke="#777" stroke-width="0.5" />
<g transform="translate(788.8,272.0) rotate(108.0)">
<path d="M0.00,0.00 C5.06,-5.70 15.19,-9.50 29.54,-9.50 C37.98,-9.50 42.20,-5.70 42.20,0.00 C42.20,5.70 37.98,9.50 29.54,9.50 C15.19,9.50 5.06,5.70 0.00,0.00 Z" fill="#000" stroke="#000" stroke-width="0.6"/>
<path d="M5.00,0.45 C9.09,-3.39 17.28,-5.95 28.87,-5.95 C35.69,-5.95 39.10,-3.39 39.10,0.45 C39.10,4.29 35.69,6.85 28.87,6.85 C17.28,6.85 9.09,4.29 5.00,0.45 Z" fill="none" stroke="#fff" stroke-width="2.1" stroke-dasharray="2.6 1.3" stroke-linecap="butt"/>
<path d="M13.00,1.80 C15.64,1.03 20.92,-1.40 28.40,-1.40 C32.80,-1.40 35.00,-0.12 35.00,1.80 C35.00,3.72 32.80,5.00 28.40,5.00 C20.92,5.00 15.64,2.57 13.00,1.80 Z" fill="#fff" stroke="none"/>
</g>
<g transform="translate(788.8,272.0) rotate(30.0)">
<path d="M0.00,0.00 C4.94,-5.85 14.83,-9.75 28.84,-9.75 C37.08,-9.75 41.20,-5.85 41.20,0.00 C41.20,5.85 37.08,9.75 28.84,9.75 C14.83,9.75 4.94,5.85 0.00,0.00 Z" fill="#000" stroke="#000" stroke-width="0.6"/>
<path d="M5.00,-0.45 C8.97,-4.44 16.92,-7.10 28.17,-7.10 C34.79,-7.10 38.10,-4.44 38.10,-0.45 C38.10,3.54 34.79,6.20 28.17,6.20 C16.92,6.20 8.97,3.54 5.00,-0.45 Z" fill="none" stroke="#fff" stroke-width="2.1" stroke-dasharray="2.6 1.3" stroke-linecap="butt"/>
<path d="M12.00,-1.80 C14.66,-2.64 19.99,-5.30 27.54,-5.30 C31.98,-5.30 34.20,-3.90 34.20,-1.80 C34.20,0.30 31.98,1.70 27.54,1.70 C19.99,1.70 14.66,-0.96 12.00,-1.80 Z" fill="#fff" stroke="none"/>
</g>
<line x1="788.8" y1="276.0" x2="791.2" y2="312.5" stroke="#000" stroke-width="4.0" />
<line x1="790.2" y1="296.3" x2="791.2" y2="312.5" stroke="#fff" stroke-width="1.8" />
<line x1="787.9" y1="276.0" x2="789.3" y2="296.3" stroke="#fff" stroke-width="0.9" />
<g transform="translate(788.8,272.0) rotate(168.4)">
<path d="M0,0 C2.7,-6.3 20.7,-6.3 22.5,0 C20.7,6.3 2.7,6.3 0,0 Z" fill="#000" stroke="#000" stroke-width="1"/>
<path d="M5.6,-0.6 L20.2,-0.4" stroke="#fff" stroke-width="0.8" fill="none"/>
</g>
<g transform="translate(788.8,272.0) rotate(-25.6)">
<path d="M0,0 C3.3,-6.3 25.5,-6.3 27.7,0 C25.5,6.3 3.3,6.3 0,0 Z" fill="#000" stroke="#000" stroke-width="1"/>
<path d="M6.9,-0.6 L25.0,-0.4" stroke="#fff" stroke-width="0.8" fill="none"/>
</g>
<path d="M784.1,269.4 A4.7,6.0 0 0 0 793.5,269.4 A4.7,1.6 0 0 0 784.1,269.4 Z" stroke="#000" stroke-width="1.6" fill="#fff" />
<rect x="783.7" y="122.5" width="8.2" height="10.2" rx="2.8" ry="2.8" fill="#fff" stroke="#222" stroke-width="1.0"/>
<path d="M783.8,128.9 L791.8,128.9" stroke="#222" stroke-width="0.9" fill="none" />
<line x1="787.8" y1="129.7" x2="787.8" y2="132.5" stroke="#000" stroke-width="2.6" />
<path d="M711.4,403.8 C711.8,416.8 721.8,426.2 732.8,426.2 C743.8,426.2 753.8,416.8 754.2,403.8" stroke="#000" stroke-width="1.5" fill="#fff" />
<path d="M713.8,412.4 A21,12.6 0 0 0 751.8,412.4" stroke="#000" stroke-width="1.0" fill="none" />
<path d="M711.8,406.4 A21.4,12.6 0 0 0 753.8,406.4" stroke="#000" stroke-width="1.9" fill="none" />
<ellipse cx="732.8" cy="402.8" rx="21.4" ry="12.6" stroke="#000" stroke-width="1.5" fill="#fff" />
<line x1="744.3" y1="420.3" x2="743.8" y2="423.8" stroke="#000" stroke-width="0.9" />
<line x1="729.3" y1="349.3" x2="732.8" y2="403.8" stroke="#000" stroke-width="4.4" />
<line x1="729.3" y1="349.3" x2="732.8" y2="403.3" stroke="#fff" stroke-width="2.0" />
<ellipse cx="732.8" cy="404.1" rx="4.6" ry="2.4" stroke="#000" stroke-width="0" fill="#000" />
<line x1="731.8" y1="400.8" x2="731.8" y2="403.3" stroke="#fff" stroke-width="2.0" />
<g transform="translate(729.3,349.3) rotate(-139.0)">
<path d="M0.00,0.00 C5.04,-5.10 15.12,-8.50 29.40,-8.50 C37.80,-8.50 42.00,-5.10 42.00,0.00 C42.00,5.10 37.80,8.50 29.40,8.50 C15.12,8.50 5.04,5.10 0.00,0.00 Z" fill="#000" stroke="#000" stroke-width="0.6"/>
<path d="M5.00,0.38 C9.07,-2.87 17.20,-5.03 28.73,-5.03 C35.51,-5.03 38.90,-2.87 38.90,0.38 C38.90,3.62 35.51,5.78 28.73,5.78 C17.20,5.78 9.07,3.62 5.00,0.38 Z" fill="none" stroke="#fff" stroke-width="2.1" stroke-dasharray="2.6 1.3" stroke-linecap="butt"/>
<path d="M11.00,1.50 C13.88,0.85 19.64,-1.20 27.80,-1.20 C32.60,-1.20 35.00,-0.12 35.00,1.50 C35.00,3.12 32.60,4.20 27.80,4.20 C19.64,4.20 13.88,2.15 11.00,1.50 Z" fill="#fff" stroke="none"/>
</g>
<g transform="translate(729.3,349.3) rotate(-72.0)">
<path d="M0.00,2.20 C5.62,-5.75 16.85,-11.05 32.76,-11.05 C42.12,-11.05 46.80,-5.75 46.80,2.20 C46.80,10.15 42.12,15.45 32.76,15.45 C16.85,15.45 5.62,10.15 0.00,2.20 Z" fill="#000" stroke="#000" stroke-width="0.6"/>
<path d="M5.00,1.55 C9.64,-4.54 18.93,-8.60 32.09,-8.60 C39.83,-8.60 43.70,-4.54 43.70,1.55 C43.70,7.64 39.83,11.70 32.09,11.70 C18.93,11.70 9.64,7.64 5.00,1.55 Z" fill="none" stroke="#fff" stroke-width="2.1" stroke-dasharray="2.6 1.3" stroke-linecap="butt"/>
<path d="M15.00,-0.40 C17.86,-1.72 23.57,-5.90 31.66,-5.90 C36.42,-5.90 38.80,-3.70 38.80,-0.40 C38.80,2.90 36.42,5.10 31.66,5.10 C23.57,5.10 17.86,0.92 15.00,-0.40 Z" fill="#fff" stroke="none"/>
</g>
<line x1="728.3" y1="208.0" x2="729.3" y2="349.3" stroke="#000" stroke-width="2.8" />
<line x1="728.3" y1="211.0" x2="729.3" y2="319.3" stroke="#777" stroke-width="0.5" />
<g transform="translate(729.3,349.3) rotate(108.0)">
<path d="M0.00,0.00 C5.06,-5.70 15.19,-9.50 29.54,-9.50 C37.98,-9.50 42.20,-5.70 42.20,0.00 C42.20,5.70 37.98,9.50 29.54,9.50 C15.19,9.50 5.06,5.70 0.00,0.00 Z" fill="#000" stroke="#000" stroke-width="0.6"/>
<path d="M5.00,0.45 C9.09,-3.39 17.28,-5.95 28.87,-5.95 C35.69,-5.95 39.10,-3.39 39.10,0.45 C39.10,4.29 35.69,6.85 28.87,6.85 C17.28,6.85 9.09,4.29 5.00,0.45 Z" fill="none" stroke="#fff" stroke-width="2.1" stroke-dasharray="2.6 1.3" stroke-linecap="butt"/>
<path d="M13.00,1.80 C15.64,1.03 20.92,-1.40 28.40,-1.40 C32.80,-1.40 35.00,-0.12 35.00,1.80 C35.00,3.72 32.80,5.00 28.40,5.00 C20.92,5.00 15.64,2.57 13.00,1.80 Z" fill="#fff" stroke="none"/>
</g>
<g transform="translate(729.3,349.3) rotate(30.0)">
<path d="M0.00,0.00 C4.94,-5.85 14.83,-9.75 28.84,-9.75 C37.08,-9.75 41.20,-5.85 41.20,0.00 C41.20,5.85 37.08,9.75 28.84,9.75 C14.83,9.75 4.94,5.85 0.00,0.00 Z" fill="#000" stroke="#000" stroke-width="0.6"/>
<path d="M5.00,-0.45 C8.97,-4.44 16.92,-7.10 28.17,-7.10 C34.79,-7.10 38.10,-4.44 38.10,-0.45 C38.10,3.54 34.79,6.20 28.17,6.20 C16.92,6.20 8.97,3.54 5.00,-0.45 Z" fill="none" stroke="#fff" stroke-width="2.1" stroke-dasharray="2.6 1.3" stroke-linecap="butt"/>
<path d="M12.00,-1.80 C14.66,-2.64 19.99,-5.30 27.54,-5.30 C31.98,-5.30 34.20,-3.90 34.20,-1.80 C34.20,0.30 31.98,1.70 27.54,1.70 C19.99,1.70 14.66,-0.96 12.00,-1.80 Z" fill="#fff" stroke="none"/>
</g>
<line x1="729.3" y1="353.3" x2="731.9" y2="390.2" stroke="#000" stroke-width="4.0" />
<line x1="730.9" y1="373.8" x2="731.9" y2="390.2" stroke="#fff" stroke-width="1.8" />
<line x1="728.4" y1="353.3" x2="730.0" y2="373.8" stroke="#fff" stroke-width="0.9" />
<g transform="translate(729.3,349.3) rotate(168.4)">
<path d="M0,0 C2.7,-6.3 20.7,-6.3 22.5,0 C20.7,6.3 2.7,6.3 0,0 Z" fill="#000" stroke="#000" stroke-width="1"/>
<path d="M5.6,-0.6 L20.2,-0.4" stroke="#fff" stroke-width="0.8" fill="none"/>
</g>
<g transform="translate(729.3,349.3) rotate(-25.6)">
<path d="M0,0 C3.3,-6.3 25.5,-6.3 27.7,0 C25.5,6.3 3.3,6.3 0,0 Z" fill="#000" stroke="#000" stroke-width="1"/>
<path d="M6.9,-0.6 L25.0,-0.4" stroke="#fff" stroke-width="0.8" fill="none"/>
</g>
<path d="M724.6,346.7 A4.7,6.0 0 0 0 734.0,346.7 A4.7,1.6 0 0 0 724.6,346.7 Z" stroke="#000" stroke-width="1.6" fill="#fff" />
<rect x="724.2" y="200.0" width="8.2" height="10.2" rx="2.8" ry="2.8" fill="#fff" stroke="#222" stroke-width="1.0"/>
<path d="M724.3,206.4 L732.3,206.4" stroke="#222" stroke-width="0.9" fill="none" />
<line x1="728.3" y1="207.2" x2="728.3" y2="210.0" stroke="#000" stroke-width="2.6" />
<path d="M649.1,395.0 C649.5,408.0 659.5,417.4 670.5,417.4 C681.5,417.4 691.5,408.0 691.9,395.0" stroke="#000" stroke-width="1.5" fill="#fff" />
<path d="M651.5,403.6 A21,12.6 0 0 0 689.5,403.6" stroke="#000" stroke-width="1.0" fill="none" />
<path d="M649.5,397.6 A21.4,12.6 0 0 0 691.5,397.6" stroke="#000" stroke-width="1.9" fill="none" />
<ellipse cx="670.5" cy="394.0" rx="21.4" ry="12.6" stroke="#000" stroke-width="1.5" fill="#fff" />
<line x1="682.0" y1="411.5" x2="681.5" y2="415.0" stroke="#000" stroke-width="0.9" />
<line x1="666.7" y1="341.0" x2="670.5" y2="395.0" stroke="#000" stroke-width="4.4" />
<line x1="666.7" y1="341.0" x2="670.5" y2="394.5" stroke="#fff" stroke-width="2.0" />
<ellipse cx="670.5" cy="395.3" rx="4.6" ry="2.4" stroke="#000" stroke-width="0" fill="#000" />
<line x1="669.5" y1="392.0" x2="669.5" y2="394.5" stroke="#fff" stroke-width="2.0" />
<g transform="translate(666.7,341.0) rotate(-139.0)">
<path d="M0.00,0.00 C5.04,-5.10 15.12,-8.50 29.40,-8.50 C37.80,-8.50 42.00,-5.10 42.00,0.00 C42.00,5.10 37.80,8.50 29.40,8.50 C15.12,8.50 5.04,5.10 0.00,0.00 Z" fill="#000" stroke="#000" stroke-width="0.6"/>
<path d="M5.00,0.38 C9.07,-2.87 17.20,-5.03 28.73,-5.03 C35.51,-5.03 38.90,-2.87 38.90,0.38 C38.90,3.62 35.51,5.78 28.73,5.78 C17.20,5.78 9.07,3.62 5.00,0.38 Z" fill="none" stroke="#fff" stroke-width="2.1" stroke-dasharray="2.6 1.3" stroke-linecap="butt"/>
<path d="M11.00,1.50 C13.88,0.85 19.64,-1.20 27.80,-1.20 C32.60,-1.20 35.00,-0.12 35.00,1.50 C35.00,3.12 32.60,4.20 27.80,4.20 C19.64,4.20 13.88,2.15 11.00,1.50 Z" fill="#fff" stroke="none"/>
</g>
<g transform="translate(666.7,341.0) rotate(-72.0)">
<path d="M0.00,2.20 C5.62,-5.75 16.85,-11.05 32.76,-11.05 C42.12,-11.05 46.80,-5.75 46.80,2.20 C46.80,10.15 42.12,15.45 32.76,15.45 C16.85,15.45 5.62,10.15 0.00,2.20 Z" fill="#000" stroke="#000" stroke-width="0.6"/>
<path d="M5.00,1.55 C9.64,-4.54 18.93,-8.60 32.09,-8.60 C39.83,-8.60 43.70,-4.54 43.70,1.55 C43.70,7.64 39.83,11.70 32.09,11.70 C18.93,11.70 9.64,7.64 5.00,1.55 Z" fill="none" stroke="#fff" stroke-width="2.1" stroke-dasharray="2.6 1.3" stroke-linecap="butt"/>
<path d="M15.00,-0.40 C17.86,-1.72 23.57,-5.90 31.66,-5.90 C36.42,-5.90 38.80,-3.70 38.80,-0.40 C38.80,2.90 36.42,5.10 31.66,5.10 C23.57,5.10 17.86,0.92 15.00,-0.40 Z" fill="#fff" stroke="none"/>
</g>
<line x1="666.3" y1="198.5" x2="666.7" y2="341.0" stroke="#000" stroke-width="2.8" />
<line x1="666.3" y1="201.5" x2="666.7" y2="311.0" stroke="#777" stroke-width="0.5" />
<g transform="translate(666.7,341.0) rotate(108.0)">
<path d="M0.00,0.00 C5.06,-5.70 15.19,-9.50 29.54,-9.50 C37.98,-9.50 42.20,-5.70 42.20,0.00 C42.20,5.70 37.98,9.50 29.54,9.50 C15.19,9.50 5.06,5.70 0.00,0.00 Z" fill="#000" stroke="#000" stroke-width="0.6"/>
<path d="M5.00,0.45 C9.09,-3.39 17.28,-5.95 28.87,-5.95 C35.69,-5.95 39.10,-3.39 39.10,0.45 C39.10,4.29 35.69,6.85 28.87,6.85 C17.28,6.85 9.09,4.29 5.00,0.45 Z" fill="none" stroke="#fff" stroke-width="2.1" stroke-dasharray="2.6 1.3" stroke-linecap="butt"/>
<path d="M13.00,1.80 C15.64,1.03 20.92,-1.40 28.40,-1.40 C32.80,-1.40 35.00,-0.12 35.00,1.80 C35.00,3.72 32.80,5.00 28.40,5.00 C20.92,5.00 15.64,2.57 13.00,1.80 Z" fill="#fff" stroke="none"/>
</g>
<g transform="translate(666.7,341.0) rotate(30.0)">
<path d="M0.00,0.00 C4.94,-5.85 14.83,-9.75 28.84,-9.75 C37.08,-9.75 41.20,-5.85 41.20,0.00 C41.20,5.85 37.08,9.75 28.84,9.75 C14.83,9.75 4.94,5.85 0.00,0.00 Z" fill="#000" stroke="#000" stroke-width="0.6"/>
<path d="M5.00,-0.45 C8.97,-4.44 16.92,-7.10 28.17,-7.10 C34.79,-7.10 38.10,-4.44 38.10,-0.45 C38.10,3.54 34.79,6.20 28.17,6.20 C16.92,6.20 8.97,3.54 5.00,-0.45 Z" fill="none" stroke="#fff" stroke-width="2.1" stroke-dasharray="2.6 1.3" stroke-linecap="butt"/>
<path d="M12.00,-1.80 C14.66,-2.64 19.99,-5.30 27.54,-5.30 C31.98,-5.30 34.20,-3.90 34.20,-1.80 C34.20,0.30 31.98,1.70 27.54,1.70 C19.99,1.70 14.66,-0.96 12.00,-1.80 Z" fill="#fff" stroke="none"/>
</g>
<line x1="666.7" y1="345.0" x2="669.5" y2="381.5" stroke="#000" stroke-width="4.0" />
<line x1="668.4" y1="365.3" x2="669.5" y2="381.5" stroke="#fff" stroke-width="1.8" />
<line x1="665.8" y1="345.0" x2="667.5" y2="365.3" stroke="#fff" stroke-width="0.9" />
<g transform="translate(666.7,341.0) rotate(168.4)">
<path d="M0,0 C2.7,-6.3 20.7,-6.3 22.5,0 C20.7,6.3 2.7,6.3 0,0 Z" fill="#000" stroke="#000" stroke-width="1"/>
<path d="M5.6,-0.6 L20.2,-0.4" stroke="#fff" stroke-width="0.8" fill="none"/>
</g>
<g transform="translate(666.7,341.0) rotate(-25.6)">
<path d="M0,0 C3.3,-6.3 25.5,-6.3 27.7,0 C25.5,6.3 3.3,6.3 0,0 Z" fill="#000" stroke="#000" stroke-width="1"/>
<path d="M6.9,-0.6 L25.0,-0.4" stroke="#fff" stroke-width="0.8" fill="none"/>
</g>
<path d="M662.0,338.4 A4.7,6.0 0 0 0 671.4,338.4 A4.7,1.6 0 0 0 662.0,338.4 Z" stroke="#000" stroke-width="1.6" fill="#fff" />
<rect x="662.2" y="190.5" width="8.2" height="10.2" rx="2.8" ry="2.8" fill="#fff" stroke="#222" stroke-width="1.0"/>
<path d="M662.3,196.9 L670.3,196.9" stroke="#222" stroke-width="0.9" fill="none" />
<line x1="666.3" y1="197.7" x2="666.3" y2="200.5" stroke="#000" stroke-width="2.6" />
<path d="M603.6,467.2 C604.0,480.2 614.0,489.6 625.0,489.6 C636.0,489.6 646.0,480.2 646.4,467.2" stroke="#000" stroke-width="1.5" fill="#fff" />
<path d="M606.0,475.8 A21,12.6 0 0 0 644.0,475.8" stroke="#000" stroke-width="1.0" fill="none" />
<path d="M604.0,469.8 A21.4,12.6 0 0 0 646.0,469.8" stroke="#000" stroke-width="1.9" fill="none" />
<ellipse cx="625.0" cy="466.2" rx="21.4" ry="12.6" stroke="#000" stroke-width="1.5" fill="#fff" />
<line x1="636.5" y1="483.7" x2="636.0" y2="487.2" stroke="#000" stroke-width="0.9" />
<line x1="622.1" y1="413.3" x2="625.0" y2="467.2" stroke="#000" stroke-width="4.4" />
<line x1="622.1" y1="413.3" x2="625.0" y2="466.7" stroke="#fff" stroke-width="2.0" />
<ellipse cx="625.0" cy="467.5" rx="4.6" ry="2.4" stroke="#000" stroke-width="0" fill="#000" />
<line x1="624.0" y1="464.2" x2="624.0" y2="466.7" stroke="#fff" stroke-width="2.0" />
<g transform="translate(622.1,413.3) rotate(-139.0)">
<path d="M0.00,0.00 C5.04,-5.10 15.12,-8.50 29.40,-8.50 C37.80,-8.50 42.00,-5.10 42.00,0.00 C42.00,5.10 37.80,8.50 29.40,8.50 C15.12,8.50 5.04,5.10 0.00,0.00 Z" fill="#000" stroke="#000" stroke-width="0.6"/>
<path d="M5.00,0.38 C9.07,-2.87 17.20,-5.03 28.73,-5.03 C35.51,-5.03 38.90,-2.87 38.90,0.38 C38.90,3.62 35.51,5.78 28.73,5.78 C17.20,5.78 9.07,3.62 5.00,0.38 Z" fill="none" stroke="#fff" stroke-width="2.1" stroke-dasharray="2.6 1.3" stroke-linecap="butt"/>
<path d="M11.00,1.50 C13.88,0.85 19.64,-1.20 27.80,-1.20 C32.60,-1.20 35.00,-0.12 35.00,1.50 C35.00,3.12 32.60,4.20 27.80,4.20 C19.64,4.20 13.88,2.15 11.00,1.50 Z" fill="#fff" stroke="none"/>
</g>
<g transform="translate(622.1,413.3) rotate(-72.0)">
<path d="M0.00,2.20 C5.62,-5.75 16.85,-11.05 32.76,-11.05 C42.12,-11.05 46.80,-5.75 46.80,2.20 C46.80,10.15 42.12,15.45 32.76,15.45 C16.85,15.45 5.62,10.15 0.00,2.20 Z" fill="#000" stroke="#000" stroke-width="0.6"/>
<path d="M5.00,1.55 C9.64,-4.54 18.93,-8.60 32.09,-8.60 C39.83,-8.60 43.70,-4.54 43.70,1.55 C43.70,7.64 39.83,11.70 32.09,11.70 C18.93,11.70 9.64,7.64 5.00,1.55 Z" fill="none" stroke="#fff" stroke-width="2.1" stroke-dasharray="2.6 1.3" stroke-linecap="butt"/>
<path d="M15.00,-0.40 C17.86,-1.72 23.57,-5.90 31.66,-5.90 C36.42,-5.90 38.80,-3.70 38.80,-0.40 C38.80,2.90 36.42,5.10 31.66,5.10 C23.57,5.10 17.86,0.92 15.00,-0.40 Z" fill="#fff" stroke="none"/>
</g>
<line x1="621.5" y1="271.7" x2="622.1" y2="413.3" stroke="#000" stroke-width="2.8" />
<line x1="621.5" y1="274.7" x2="622.1" y2="383.3" stroke="#777" stroke-width="0.5" />
<g transform="translate(622.1,413.3) rotate(108.0)">
<path d="M0.00,0.00 C5.06,-5.70 15.19,-9.50 29.54,-9.50 C37.98,-9.50 42.20,-5.70 42.20,0.00 C42.20,5.70 37.98,9.50 29.54,9.50 C15.19,9.50 5.06,5.70 0.00,0.00 Z" fill="#000" stroke="#000" stroke-width="0.6"/>
<path d="M5.00,0.45 C9.09,-3.39 17.28,-5.95 28.87,-5.95 C35.69,-5.95 39.10,-3.39 39.10,0.45 C39.10,4.29 35.69,6.85 28.87,6.85 C17.28,6.85 9.09,4.29 5.00,0.45 Z" fill="none" stroke="#fff" stroke-width="2.1" stroke-dasharray="2.6 1.3" stroke-linecap="butt"/>
<path d="M13.00,1.80 C15.64,1.03 20.92,-1.40 28.40,-1.40 C32.80,-1.40 35.00,-0.12 35.00,1.80 C35.00,3.72 32.80,5.00 28.40,5.00 C20.92,5.00 15.64,2.57 13.00,1.80 Z" fill="#fff" stroke="none"/>
</g>
<g transform="translate(622.1,413.3) rotate(30.0)">
<path d="M0.00,0.00 C4.94,-5.85 14.83,-9.75 28.84,-9.75 C37.08,-9.75 41.20,-5.85 41.20,0.00 C41.20,5.85 37.08,9.75 28.84,9.75 C14.83,9.75 4.94,5.85 0.00,0.00 Z" fill="#000" stroke="#000" stroke-width="0.6"/>
<path d="M5.00,-0.45 C8.97,-4.44 16.92,-7.10 28.17,-7.10 C34.79,-7.10 38.10,-4.44 38.10,-0.45 C38.10,3.54 34.79,6.20 28.17,6.20 C16.92,6.20 8.97,3.54 5.00,-0.45 Z" fill="none" stroke="#fff" stroke-width="2.1" stroke-dasharray="2.6 1.3" stroke-linecap="butt"/>
<path d="M12.00,-1.80 C14.66,-2.64 19.99,-5.30 27.54,-5.30 C31.98,-5.30 34.20,-3.90 34.20,-1.80 C34.20,0.30 31.98,1.70 27.54,1.70 C19.99,1.70 14.66,-0.96 12.00,-1.80 Z" fill="#fff" stroke="none"/>
</g>
<line x1="622.1" y1="417.3" x2="624.3" y2="453.7" stroke="#000" stroke-width="4.0" />
<line x1="623.4" y1="437.6" x2="624.3" y2="453.7" stroke="#fff" stroke-width="1.8" />
<line x1="621.2" y1="417.3" x2="622.5" y2="437.6" stroke="#fff" stroke-width="0.9" />
<g transform="translate(622.1,413.3) rotate(168.4)">
<path d="M0,0 C2.7,-6.3 20.7,-6.3 22.5,0 C20.7,6.3 2.7,6.3 0,0 Z" fill="#000" stroke="#000" stroke-width="1"/>
<path d="M5.6,-0.6 L20.2,-0.4" stroke="#fff" stroke-width="0.8" fill="none"/>
</g>
<g transform="translate(622.1,413.3) rotate(-25.6)">
<path d="M0,0 C3.3,-6.3 25.5,-6.3 27.7,0 C25.5,6.3 3.3,6.3 0,0 Z" fill="#000" stroke="#000" stroke-width="1"/>
<path d="M6.9,-0.6 L25.0,-0.4" stroke="#fff" stroke-width="0.8" fill="none"/>
</g>
<path d="M617.4,410.7 A4.7,6.0 0 0 0 626.8,410.7 A4.7,1.6 0 0 0 617.4,410.7 Z" stroke="#000" stroke-width="1.6" fill="#fff" />
<rect x="617.4" y="263.7" width="8.2" height="10.2" rx="2.8" ry="2.8" fill="#fff" stroke="#222" stroke-width="1.0"/>
<path d="M617.5,270.1 L625.5,270.1" stroke="#222" stroke-width="0.9" fill="none" />
<line x1="621.5" y1="270.9" x2="621.5" y2="273.7" stroke="#000" stroke-width="2.6" />
<path d="M554.0,444.8 C554.4,457.8 564.4,467.2 575.4,467.2 C586.4,467.2 596.4,457.8 596.8,444.8" stroke="#000" stroke-width="1.5" fill="#fff" />
<path d="M556.4,453.4 A21,12.6 0 0 0 594.4,453.4" stroke="#000" stroke-width="1.0" fill="none" />
<path d="M554.4,447.4 A21.4,12.6 0 0 0 596.4,447.4" stroke="#000" stroke-width="1.9" fill="none" />
<ellipse cx="575.4" cy="443.8" rx="21.4" ry="12.6" stroke="#000" stroke-width="1.5" fill="#fff" />
<line x1="586.9" y1="461.3" x2="586.4" y2="464.8" stroke="#000" stroke-width="0.9" />
<line x1="572.1" y1="391.3" x2="575.4" y2="444.8" stroke="#000" stroke-width="4.4" />
<line x1="572.1" y1="391.3" x2="575.4" y2="444.3" stroke="#fff" stroke-width="2.0" />
<ellipse cx="575.4" cy="445.1" rx="4.6" ry="2.4" stroke="#000" stroke-width="0" fill="#000" />
<line x1="574.4" y1="441.8" x2="574.4" y2="444.3" stroke="#fff" stroke-width="2.0" />
<g transform="translate(572.1,391.3) rotate(-139.0)">
<path d="M0.00,0.00 C5.04,-5.10 15.12,-8.50 29.40,-8.50 C37.80,-8.50 42.00,-5.10 42.00,0.00 C42.00,5.10 37.80,8.50 29.40,8.50 C15.12,8.50 5.04,5.10 0.00,0.00 Z" fill="#000" stroke="#000" stroke-width="0.6"/>
<path d="M5.00,0.38 C9.07,-2.87 17.20,-5.03 28.73,-5.03 C35.51,-5.03 38.90,-2.87 38.90,0.38 C38.90,3.62 35.51,5.78 28.73,5.78 C17.20,5.78 9.07,3.62 5.00,0.38 Z" fill="none" stroke="#fff" stroke-width="2.1" stroke-dasharray="2.6 1.3" stroke-linecap="butt"/>
<path d="M11.00,1.50 C13.88,0.85 19.64,-1.20 27.80,-1.20 C32.60,-1.20 35.00,-0.12 35.00,1.50 C35.00,3.12 32.60,4.20 27.80,4.20 C19.64,4.20 13.88,2.15 11.00,1.50 Z" fill="#fff" stroke="none"/>
</g>
<g transform="translate(572.1,391.3) rotate(-72.0)">
<path d="M0.00,2.20 C5.62,-5.75 16.85,-11.05 32.76,-11.05 C42.12,-11.05 46.80,-5.75 46.80,2.20 C46.80,10.15 42.12,15.45 32.76,15.45 C16.85,15.45 5.62,10.15 0.00,2.20 Z" fill="#000" stroke="#000" stroke-width="0.6"/>
<path d="M5.00,1.55 C9.64,-4.54 18.93,-8.60 32.09,-8.60 C39.83,-8.60 43.70,-4.54 43.70,1.55 C43.70,7.64 39.83,11.70 32.09,11.70 C18.93,11.70 9.64,7.64 5.00,1.55 Z" fill="none" stroke="#fff" stroke-width="2.1" stroke-dasharray="2.6 1.3" stroke-linecap="butt"/>
<path d="M15.00,-0.40 C17.86,-1.72 23.57,-5.90 31.66,-5.90 C36.42,-5.90 38.80,-3.70 38.80,-0.40 C38.80,2.90 36.42,5.10 31.66,5.10 C23.57,5.10 17.86,0.92 15.00,-0.40 Z" fill="#fff" stroke="none"/>
</g>
<line x1="571.3" y1="249.3" x2="572.1" y2="391.3" stroke="#000" stroke-width="2.8" />
<line x1="571.3" y1="252.3" x2="572.1" y2="361.3" stroke="#777" stroke-width="0.5" />
<g transform="translate(572.1,391.3) rotate(108.0)">
<path d="M0.00,0.00 C5.06,-5.70 15.19,-9.50 29.54,-9.50 C37.98,-9.50 42.20,-5.70 42.20,0.00 C42.20,5.70 37.98,9.50 29.54,9.50 C15.19,9.50 5.06,5.70 0.00,0.00 Z" fill="#000" stroke="#000" stroke-width="0.6"/>
<path d="M5.00,0.45 C9.09,-3.39 17.28,-5.95 28.87,-5.95 C35.69,-5.95 39.10,-3.39 39.10,0.45 C39.10,4.29 35.69,6.85 28.87,6.85 C17.28,6.85 9.09,4.29 5.00,0.45 Z" fill="none" stroke="#fff" stroke-width="2.1" stroke-dasharray="2.6 1.3" stroke-linecap="butt"/>
<path d="M13.00,1.80 C15.64,1.03 20.92,-1.40 28.40,-1.40 C32.80,-1.40 35.00,-0.12 35.00,1.80 C35.00,3.72 32.80,5.00 28.40,5.00 C20.92,5.00 15.64,2.57 13.00,1.80 Z" fill="#fff" stroke="none"/>
</g>
<g transform="translate(572.1,391.3) rotate(30.0)">
<path d="M0.00,0.00 C4.94,-5.85 14.83,-9.75 28.84,-9.75 C37.08,-9.75 41.20,-5.85 41.20,0.00 C41.20,5.85 37.08,9.75 28.84,9.75 C14.83,9.75 4.94,5.85 0.00,0.00 Z" fill="#000" stroke="#000" stroke-width="0.6"/>
<path d="M5.00,-0.45 C8.97,-4.44 16.92,-7.10 28.17,-7.10 C34.79,-7.10 38.10,-4.44 38.10,-0.45 C38.10,3.54 34.79,6.20 28.17,6.20 C16.92,6.20 8.97,3.54 5.00,-0.45 Z" fill="none" stroke="#fff" stroke-width="2.1" stroke-dasharray="2.6 1.3" stroke-linecap="butt"/>
<path d="M12.00,-1.80 C14.66,-2.64 19.99,-5.30 27.54,-5.30 C31.98,-5.30 34.20,-3.90 34.20,-1.80 C34.20,0.30 31.98,1.70 27.54,1.70 C19.99,1.70 14.66,-0.96 12.00,-1.80 Z" fill="#fff" stroke="none"/>
</g>
<line x1="572.1" y1="395.3" x2="574.6" y2="431.4" stroke="#000" stroke-width="4.0" />
<line x1="573.6" y1="415.4" x2="574.6" y2="431.4" stroke="#fff" stroke-width="1.8" />
<line x1="571.2" y1="395.3" x2="572.7" y2="415.4" stroke="#fff" stroke-width="0.9" />
<g transform="translate(572.1,391.3) rotate(168.4)">
<path d="M0,0 C2.7,-6.3 20.7,-6.3 22.5,0 C20.7,6.3 2.7,6.3 0,0 Z" fill="#000" stroke="#000" stroke-width="1"/>
<path d="M5.6,-0.6 L20.2,-0.4" stroke="#fff" stroke-width="0.8" fill="none"/>
</g>
<g transform="translate(572.1,391.3) rotate(-25.6)">
<path d="M0,0 C3.3,-6.3 25.5,-6.3 27.7,0 C25.5,6.3 3.3,6.3 0,0 Z" fill="#000" stroke="#000" stroke-width="1"/>
<path d="M6.9,-0.6 L25.0,-0.4" stroke="#fff" stroke-width="0.8" fill="none"/>
</g>
<path d="M567.4,388.7 A4.7,6.0 0 0 0 576.8,388.7 A4.7,1.6 0 0 0 567.4,388.7 Z" stroke="#000" stroke-width="1.6" fill="#fff" />
<rect x="567.2" y="241.3" width="8.2" height="10.2" rx="2.8" ry="2.8" fill="#fff" stroke="#222" stroke-width="1.0"/>
<path d="M567.3,247.7 L575.3,247.7" stroke="#222" stroke-width="0.9" fill="none" />
<line x1="571.3" y1="248.5" x2="571.3" y2="251.3" stroke="#000" stroke-width="2.6" />
<path d="M510.9,521.6 C511.3,534.6 521.3,544.0 532.3,544.0 C543.3,544.0 553.3,534.6 553.7,521.6" stroke="#000" stroke-width="1.5" fill="#fff" />
<path d="M513.3,530.2 A21,12.6 0 0 0 551.3,530.2" stroke="#000" stroke-width="1.0" fill="none" />
<path d="M511.3,524.2 A21.4,12.6 0 0 0 553.3,524.2" stroke="#000" stroke-width="1.9" fill="none" />
<ellipse cx="532.3" cy="520.6" rx="21.4" ry="12.6" stroke="#000" stroke-width="1.5" fill="#fff" />
<line x1="543.8" y1="538.1" x2="543.3" y2="541.6" stroke="#000" stroke-width="0.9" />
<line x1="528.0" y1="468.1" x2="532.3" y2="521.6" stroke="#000" stroke-width="4.4" />
<line x1="528.0" y1="468.1" x2="532.3" y2="521.1" stroke="#fff" stroke-width="2.0" />
<ellipse cx="532.3" cy="521.9" rx="4.6" ry="2.4" stroke="#000" stroke-width="0" fill="#000" />
<line x1="531.3" y1="518.6" x2="531.3" y2="521.1" stroke="#fff" stroke-width="2.0" />
<g transform="translate(528.0,468.1) rotate(-139.0)">
<path d="M0.00,0.00 C5.04,-5.10 15.12,-8.50 29.40,-8.50 C37.80,-8.50 42.00,-5.10 42.00,0.00 C42.00,5.10 37.80,8.50 29.40,8.50 C15.12,8.50 5.04,5.10 0.00,0.00 Z" fill="#000" stroke="#000" stroke-width="0.6"/>
<path d="M5.00,0.38 C9.07,-2.87 17.20,-5.03 28.73,-5.03 C35.51,-5.03 38.90,-2.87 38.90,0.38 C38.90,3.62 35.51,5.78 28.73,5.78 C17.20,5.78 9.07,3.62 5.00,0.38 Z" fill="none" stroke="#fff" stroke-width="2.1" stroke-dasharray="2.6 1.3" stroke-linecap="butt"/>
<path d="M11.00,1.50 C13.88,0.85 19.64,-1.20 27.80,-1.20 C32.60,-1.20 35.00,-0.12 35.00,1.50 C35.00,3.12 32.60,4.20 27.80,4.20 C19.64,4.20 13.88,2.15 11.00,1.50 Z" fill="#fff" stroke="none"/>
</g>
<g transform="translate(528.0,468.1) rotate(-72.0)">
<path d="M0.00,2.20 C5.62,-5.75 16.85,-11.05 32.76,-11.05 C42.12,-11.05 46.80,-5.75 46.80,2.20 C46.80,10.15 42.12,15.45 32.76,15.45 C16.85,15.45 5.62,10.15 0.00,2.20 Z" fill="#000" stroke="#000" stroke-width="0.6"/>
<path d="M5.00,1.55 C9.64,-4.54 18.93,-8.60 32.09,-8.60 C39.83,-8.60 43.70,-4.54 43.70,1.55 C43.70,7.64 39.83,11.70 32.09,11.70 C18.93,11.70 9.64,7.64 5.00,1.55 Z" fill="none" stroke="#fff" stroke-width="2.1" stroke-dasharray="2.6 1.3" stroke-linecap="butt"/>
<path d="M15.00,-0.40 C17.86,-1.72 23.57,-5.90 31.66,-5.90 C36.42,-5.90 38.80,-3.70 38.80,-0.40 C38.80,2.90 36.42,5.10 31.66,5.10 C23.57,5.10 17.86,0.92 15.00,-0.40 Z" fill="#fff" stroke="none"/>
</g>
<line x1="527.5" y1="325.5" x2="528.0" y2="468.1" stroke="#000" stroke-width="2.8" />
<line x1="527.5" y1="328.5" x2="528.0" y2="438.1" stroke="#777" stroke-width="0.5" />
<g transform="translate(528.0,468.1) rotate(108.0)">
<path d="M0.00,0.00 C5.06,-5.70 15.19,-9.50 29.54,-9.50 C37.98,-9.50 42.20,-5.70 42.20,0.00 C42.20,5.70 37.98,9.50 29.54,9.50 C15.19,9.50 5.06,5.70 0.00,0.00 Z" fill="#000" stroke="#000" stroke-width="0.6"/>
<path d="M5.00,0.45 C9.09,-3.39 17.28,-5.95 28.87,-5.95 C35.69,-5.95 39.10,-3.39 39.10,0.45 C39.10,4.29 35.69,6.85 28.87,6.85 C17.28,6.85 9.09,4.29 5.00,0.45 Z" fill="none" stroke="#fff" stroke-width="2.1" stroke-dasharray="2.6 1.3" stroke-linecap="butt"/>
<path d="M13.00,1.80 C15.64,1.03 20.92,-1.40 28.40,-1.40 C32.80,-1.40 35.00,-0.12 35.00,1.80 C35.00,3.72 32.80,5.00 28.40,5.00 C20.92,5.00 15.64,2.57 13.00,1.80 Z" fill="#fff" stroke="none"/>
</g>
<g transform="translate(528.0,468.1) rotate(30.0)">
<path d="M0.00,0.00 C4.94,-5.85 14.83,-9.75 28.84,-9.75 C37.08,-9.75 41.20,-5.85 41.20,0.00 C41.20,5.85 37.08,9.75 28.84,9.75 C14.83,9.75 4.94,5.85 0.00,0.00 Z" fill="#000" stroke="#000" stroke-width="0.6"/>
<path d="M5.00,-0.45 C8.97,-4.44 16.92,-7.10 28.17,-7.10 C34.79,-7.10 38.10,-4.44 38.10,-0.45 C38.10,3.54 34.79,6.20 28.17,6.20 C16.92,6.20 8.97,3.54 5.00,-0.45 Z" fill="none" stroke="#fff" stroke-width="2.1" stroke-dasharray="2.6 1.3" stroke-linecap="butt"/>
<path d="M12.00,-1.80 C14.66,-2.64 19.99,-5.30 27.54,-5.30 C31.98,-5.30 34.20,-3.90 34.20,-1.80 C34.20,0.30 31.98,1.70 27.54,1.70 C19.99,1.70 14.66,-0.96 12.00,-1.80 Z" fill="#fff" stroke="none"/>
</g>
<line x1="528.0" y1="472.1" x2="531.2" y2="508.2" stroke="#000" stroke-width="4.0" />
<line x1="529.9" y1="492.2" x2="531.2" y2="508.2" stroke="#fff" stroke-width="1.8" />
<line x1="527.1" y1="472.1" x2="529.0" y2="492.2" stroke="#fff" stroke-width="0.9" />
<g transform="translate(528.0,468.1) rotate(168.4)">
<path d="M0,0 C2.7,-6.3 20.7,-6.3 22.5,0 C20.7,6.3 2.7,6.3 0,0 Z" fill="#000" stroke="#000" stroke-width="1"/>
<path d="M5.6,-0.6 L20.2,-0.4" stroke="#fff" stroke-width="0.8" fill="none"/>
</g>
<g transform="translate(528.0,468.1) rotate(-25.6)">
<path d="M0,0 C3.3,-6.3 25.5,-6.3 27.7,0 C25.5,6.3 3.3,6.3 0,0 Z" fill="#000" stroke="#000" stroke-width="1"/>
<path d="M6.9,-0.6 L25.0,-0.4" stroke="#fff" stroke-width="0.8" fill="none"/>
</g>
<path d="M523.3,465.5 A4.7,6.0 0 0 0 532.7,465.5 A4.7,1.6 0 0 0 523.3,465.5 Z" stroke="#000" stroke-width="1.6" fill="#fff" />
<rect x="523.4" y="317.5" width="8.2" height="10.2" rx="2.8" ry="2.8" fill="#fff" stroke="#222" stroke-width="1.0"/>
<path d="M523.5,323.9 L531.5,323.9" stroke="#222" stroke-width="0.9" fill="none" />
<line x1="527.5" y1="324.7" x2="527.5" y2="327.5" stroke="#000" stroke-width="2.6" />
<path d="M447.6,509.3 C448.0,522.3 458.0,531.7 469.0,531.7 C480.0,531.7 490.0,522.3 490.4,509.3" stroke="#000" stroke-width="1.5" fill="#fff" />
<path d="M450.0,517.9 A21,12.6 0 0 0 488.0,517.9" stroke="#000" stroke-width="1.0" fill="none" />
<path d="M448.0,511.9 A21.4,12.6 0 0 0 490.0,511.9" stroke="#000" stroke-width="1.9" fill="none" />
<ellipse cx="469.0" cy="508.3" rx="21.4" ry="12.6" stroke="#000" stroke-width="1.5" fill="#fff" />
<line x1="480.5" y1="525.8" x2="480.0" y2="529.3" stroke="#000" stroke-width="0.9" />
<line x1="465.1" y1="455.4" x2="469.0" y2="509.3" stroke="#000" stroke-width="4.4" />
<line x1="465.1" y1="455.4" x2="469.0" y2="508.8" stroke="#fff" stroke-width="2.0" />
<ellipse cx="469.0" cy="509.6" rx="4.6" ry="2.4" stroke="#000" stroke-width="0" fill="#000" />
<line x1="468.0" y1="506.3" x2="468.0" y2="508.8" stroke="#fff" stroke-width="2.0" />
<g transform="translate(465.1,455.4) rotate(-139.0)">
<path d="M0.00,0.00 C5.04,-5.10 15.12,-8.50 29.40,-8.50 C37.80,-8.50 42.00,-5.10 42.00,0.00 C42.00,5.10 37.80,8.50 29.40,8.50 C15.12,8.50 5.04,5.10 0.00,0.00 Z" fill="#000" stroke="#000" stroke-width="0.6"/>
<path d="M5.00,0.38 C9.07,-2.87 17.20,-5.03 28.73,-5.03 C35.51,-5.03 38.90,-2.87 38.90,0.38 C38.90,3.62 35.51,5.78 28.73,5.78 C17.20,5.78 9.07,3.62 5.00,0.38 Z" fill="none" stroke="#fff" stroke-width="2.1" stroke-dasharray="2.6 1.3" stroke-linecap="butt"/>
<path d="M11.00,1.50 C13.88,0.85 19.64,-1.20 27.80,-1.20 C32.60,-1.20 35.00,-0.12 35.00,1.50 C35.00,3.12 32.60,4.20 27.80,4.20 C19.64,4.20 13.88,2.15 11.00,1.50 Z" fill="#fff" stroke="none"/>
</g>
<g transform="translate(465.1,455.4) rotate(-72.0)">
<path d="M0.00,2.20 C5.62,-5.75 16.85,-11.05 32.76,-11.05 C42.12,-11.05 46.80,-5.75 46.80,2.20 C46.80,10.15 42.12,15.45 32.76,15.45 C16.85,15.45 5.62,10.15 0.00,2.20 Z" fill="#000" stroke="#000" stroke-width="0.6"/>
<path d="M5.00,1.55 C9.64,-4.54 18.93,-8.60 32.09,-8.60 C39.83,-8.60 43.70,-4.54 43.70,1.55 C43.70,7.64 39.83,11.70 32.09,11.70 C18.93,11.70 9.64,7.64 5.00,1.55 Z" fill="none" stroke="#fff" stroke-width="2.1" stroke-dasharray="2.6 1.3" stroke-linecap="butt"/>
<path d="M15.00,-0.40 C17.86,-1.72 23.57,-5.90 31.66,-5.90 C36.42,-5.90 38.80,-3.70 38.80,-0.40 C38.80,2.90 36.42,5.10 31.66,5.10 C23.57,5.10 17.86,0.92 15.00,-0.40 Z" fill="#fff" stroke="none"/>
</g>
<line x1="464.8" y1="313.5" x2="465.1" y2="455.4" stroke="#000" stroke-width="2.8" />
<line x1="464.8" y1="316.5" x2="465.1" y2="425.4" stroke="#777" stroke-width="0.5" />
<g transform="translate(465.1,455.4) rotate(108.0)">
<path d="M0.00,0.00 C5.06,-5.70 15.19,-9.50 29.54,-9.50 C37.98,-9.50 42.20,-5.70 42.20,0.00 C42.20,5.70 37.98,9.50 29.54,9.50 C15.19,9.50 5.06,5.70 0.00,0.00 Z" fill="#000" stroke="#000" stroke-width="0.6"/>
<path d="M5.00,0.45 C9.09,-3.39 17.28,-5.95 28.87,-5.95 C35.69,-5.95 39.10,-3.39 39.10,0.45 C39.10,4.29 35.69,6.85 28.87,6.85 C17.28,6.85 9.09,4.29 5.00,0.45 Z" fill="none" stroke="#fff" stroke-width="2.1" stroke-dasharray="2.6 1.3" stroke-linecap="butt"/>
<path d="M13.00,1.80 C15.64,1.03 20.92,-1.40 28.40,-1.40 C32.80,-1.40 35.00,-0.12 35.00,1.80 C35.00,3.72 32.80,5.00 28.40,5.00 C20.92,5.00 15.64,2.57 13.00,1.80 Z" fill="#fff" stroke="none"/>
</g>
<g transform="translate(465.1,455.4) rotate(30.0)">
<path d="M0.00,0.00 C4.94,-5.85 14.83,-9.75 28.84,-9.75 C37.08,-9.75 41.20,-5.85 41.20,0.00 C41.20,5.85 37.08,9.75 28.84,9.75 C14.83,9.75 4.94,5.85 0.00,0.00 Z" fill="#000" stroke="#000" stroke-width="0.6"/>
<path d="M5.00,-0.45 C8.97,-4.44 16.92,-7.10 28.17,-7.10 C34.79,-7.10 38.10,-4.44 38.10,-0.45 C38.10,3.54 34.79,6.20 28.17,6.20 C16.92,6.20 8.97,3.54 5.00,-0.45 Z" fill="none" stroke="#fff" stroke-width="2.1" stroke-dasharray="2.6 1.3" stroke-linecap="butt"/>
<path d="M12.00,-1.80 C14.66,-2.64 19.99,-5.30 27.54,-5.30 C31.98,-5.30 34.20,-3.90 34.20,-1.80 C34.20,0.30 31.98,1.70 27.54,1.70 C19.99,1.70 14.66,-0.96 12.00,-1.80 Z" fill="#fff" stroke="none"/>
</g>
<line x1="465.1" y1="459.4" x2="468.0" y2="495.8" stroke="#000" stroke-width="4.0" />
<line x1="466.9" y1="479.7" x2="468.0" y2="495.8" stroke="#fff" stroke-width="1.8" />
<line x1="464.2" y1="459.4" x2="466.0" y2="479.7" stroke="#fff" stroke-width="0.9" />
<g transform="translate(465.1,455.4) rotate(168.4)">
<path d="M0,0 C2.7,-6.3 20.7,-6.3 22.5,0 C20.7,6.3 2.7,6.3 0,0 Z" fill="#000" stroke="#000" stroke-width="1"/>
<path d="M5.6,-0.6 L20.2,-0.4" stroke="#fff" stroke-width="0.8" fill="none"/>
</g>
<g transform="translate(465.1,455.4) rotate(-25.6)">
<path d="M0,0 C3.3,-6.3 25.5,-6.3 27.7,0 C25.5,6.3 3.3,6.3 0,0 Z" fill="#000" stroke="#000" stroke-width="1"/>
<path d="M6.9,-0.6 L25.0,-0.4" stroke="#fff" stroke-width="0.8" fill="none"/>
</g>
<path d="M460.4,452.8 A4.7,6.0 0 0 0 469.8,452.8 A4.7,1.6 0 0 0 460.4,452.8 Z" stroke="#000" stroke-width="1.6" fill="#fff" />
<rect x="460.7" y="305.5" width="8.2" height="10.2" rx="2.8" ry="2.8" fill="#fff" stroke="#222" stroke-width="1.0"/>
<path d="M460.8,311.9 L468.8,311.9" stroke="#222" stroke-width="0.9" fill="none" />
<line x1="464.8" y1="312.7" x2="464.8" y2="315.5" stroke="#000" stroke-width="2.6" />
<path d="M379.0,600.0 C379.4,613.0 389.4,622.4 400.4,622.4 C411.4,622.4 421.4,613.0 421.8,600.0" stroke="#000" stroke-width="1.5" fill="#fff" />
<path d="M381.4,608.6 A21,12.6 0 0 0 419.4,608.6" stroke="#000" stroke-width="1.0" fill="none" />
<path d="M379.4,602.6 A21.4,12.6 0 0 0 421.4,602.6" stroke="#000" stroke-width="1.9" fill="none" />
<ellipse cx="400.4" cy="599.0" rx="21.4" ry="12.6" stroke="#000" stroke-width="1.5" fill="#fff" />
<line x1="411.9" y1="616.5" x2="411.4" y2="620.0" stroke="#000" stroke-width="0.9" />
<line x1="396.0" y1="546.7" x2="400.4" y2="600.0" stroke="#000" stroke-width="4.4" />
<line x1="396.0" y1="546.7" x2="400.4" y2="599.5" stroke="#fff" stroke-width="2.0" />
<ellipse cx="400.4" cy="600.3" rx="4.6" ry="2.4" stroke="#000" stroke-width="0" fill="#000" />
<line x1="399.4" y1="597.0" x2="399.4" y2="599.5" stroke="#fff" stroke-width="2.0" />
<g transform="translate(396.0,546.7) rotate(-139.0)">
<path d="M0.00,0.00 C5.04,-5.10 15.12,-8.50 29.40,-8.50 C37.80,-8.50 42.00,-5.10 42.00,0.00 C42.00,5.10 37.80,8.50 29.40,8.50 C15.12,8.50 5.04,5.10 0.00,0.00 Z" fill="#000" stroke="#000" stroke-width="0.6"/>
<path d="M5.00,0.38 C9.07,-2.87 17.20,-5.03 28.73,-5.03 C35.51,-5.03 38.90,-2.87 38.90,0.38 C38.90,3.62 35.51,5.78 28.73,5.78 C17.20,5.78 9.07,3.62 5.00,0.38 Z" fill="none" stroke="#fff" stroke-width="2.1" stroke-dasharray="2.6 1.3" stroke-linecap="butt"/>
<path d="M11.00,1.50 C13.88,0.85 19.64,-1.20 27.80,-1.20 C32.60,-1.20 35.00,-0.12 35.00,1.50 C35.00,3.12 32.60,4.20 27.80,4.20 C19.64,4.20 13.88,2.15 11.00,1.50 Z" fill="#fff" stroke="none"/>
</g>
<g transform="translate(396.0,546.7) rotate(-72.0)">
<path d="M0.00,2.20 C5.62,-5.75 16.85,-11.05 32.76,-11.05 C42.12,-11.05 46.80,-5.75 46.80,2.20 C46.80,10.15 42.12,15.45 32.76,15.45 C16.85,15.45 5.62,10.15 0.00,2.20 Z" fill="#000" stroke="#000" stroke-width="0.6"/>
<path d="M5.00,1.55 C9.64,-4.54 18.93,-8.60 32.09,-8.60 C39.83,-8.60 43.70,-4.54 43.70,1.55 C43.70,7.64 39.83,11.70 32.09,11.70 C18.93,11.70 9.64,7.64 5.00,1.55 Z" fill="none" stroke="#fff" stroke-width="2.1" stroke-dasharray="2.6 1.3" stroke-linecap="butt"/>
<path d="M15.00,-0.40 C17.86,-1.72 23.57,-5.90 31.66,-5.90 C36.42,-5.90 38.80,-3.70 38.80,-0.40 C38.80,2.90 36.42,5.10 31.66,5.10 C23.57,5.10 17.86,0.92 15.00,-0.40 Z" fill="#fff" stroke="none"/>
</g>
<line x1="396.3" y1="441.0" x2="396.0" y2="546.7" stroke="#000" stroke-width="2.8" />
<line x1="396.3" y1="444.0" x2="396.0" y2="516.7" stroke="#777" stroke-width="0.5" />
<g transform="translate(396.0,546.7) rotate(108.0)">
<path d="M0.00,0.00 C5.06,-5.70 15.19,-9.50 29.54,-9.50 C37.98,-9.50 42.20,-5.70 42.20,0.00 C42.20,5.70 37.98,9.50 29.54,9.50 C15.19,9.50 5.06,5.70 0.00,0.00 Z" fill="#000" stroke="#000" stroke-width="0.6"/>
<path d="M5.00,0.45 C9.09,-3.39 17.28,-5.95 28.87,-5.95 C35.69,-5.95 39.10,-3.39 39.10,0.45 C39.10,4.29 35.69,6.85 28.87,6.85 C17.28,6.85 9.09,4.29 5.00,0.45 Z" fill="none" stroke="#fff" stroke-width="2.1" stroke-dasharray="2.6 1.3" stroke-linecap="butt"/>
<path d="M13.00,1.80 C15.64,1.03 20.92,-1.40 28.40,-1.40 C32.80,-1.40 35.00,-0.12 35.00,1.80 C35.00,3.72 32.80,5.00 28.40,5.00 C20.92,5.00 15.64,2.57 13.00,1.80 Z" fill="#fff" stroke="none"/>
</g>
<g transform="translate(396.0,546.7) rotate(30.0)">
<path d="M0.00,0.00 C4.94,-5.85 14.83,-9.75 28.84,-9.75 C37.08,-9.75 41.20,-5.85 41.20,0.00 C41.20,5.85 37.08,9.75 28.84,9.75 C14.83,9.75 4.94,5.85 0.00,0.00 Z" fill="#000" stroke="#000" stroke-width="0.6"/>
<path d="M5.00,-0.45 C8.97,-4.44 16.92,-7.10 28.17,-7.10 C34.79,-7.10 38.10,-4.44 38.10,-0.45 C38.10,3.54 34.79,6.20 28.17,6.20 C16.92,6.20 8.97,3.54 5.00,-0.45 Z" fill="none" stroke="#fff" stroke-width="2.1" stroke-dasharray="2.6 1.3" stroke-linecap="butt"/>
<path d="M12.00,-1.80 C14.66,-2.64 19.99,-5.30 27.54,-5.30 C31.98,-5.30 34.20,-3.90 34.20,-1.80 C34.20,0.30 31.98,1.70 27.54,1.70 C19.99,1.70 14.66,-0.96 12.00,-1.80 Z" fill="#fff" stroke="none"/>
</g>
<line x1="396.0" y1="550.7" x2="399.3" y2="586.7" stroke="#000" stroke-width="4.0" />
<line x1="398.0" y1="570.7" x2="399.3" y2="586.7" stroke="#fff" stroke-width="1.8" />
<line x1="395.1" y1="550.7" x2="397.1" y2="570.7" stroke="#fff" stroke-width="0.9" />
<g transform="translate(396.0,546.7) rotate(168.4)">
<path d="M0,0 C2.7,-6.3 20.7,-6.3 22.5,0 C20.7,6.3 2.7,6.3 0,0 Z" fill="#000" stroke="#000" stroke-width="1"/>
<path d="M5.6,-0.6 L20.2,-0.4" stroke="#fff" stroke-width="0.8" fill="none"/>
</g>
<g transform="translate(396.0,546.7) rotate(-25.6)">
<path d="M0,0 C3.3,-6.3 25.5,-6.3 27.7,0 C25.5,6.3 3.3,6.3 0,0 Z" fill="#000" stroke="#000" stroke-width="1"/>
<path d="M6.9,-0.6 L25.0,-0.4" stroke="#fff" stroke-width="0.8" fill="none"/>
</g>
<path d="M391.3,544.1 A4.7,6.0 0 0 0 400.7,544.1 A4.7,1.6 0 0 0 391.3,544.1 Z" stroke="#000" stroke-width="1.6" fill="#fff" />
<path d="M324.2,581.1 C324.6,594.1 334.6,603.5 345.6,603.5 C356.6,603.5 366.6,594.1 367.0,581.1" stroke="#000" stroke-width="1.5" fill="#fff" />
<path d="M326.6,589.7 A21,12.6 0 0 0 364.6,589.7" stroke="#000" stroke-width="1.0" fill="none" />
<path d="M324.6,583.7 A21.4,12.6 0 0 0 366.6,583.7" stroke="#000" stroke-width="1.9" fill="none" />
<ellipse cx="345.6" cy="580.1" rx="21.4" ry="12.6" stroke="#000" stroke-width="1.5" fill="#fff" />
<line x1="357.1" y1="597.6" x2="356.6" y2="601.1" stroke="#000" stroke-width="0.9" />
<line x1="341.1" y1="528.2" x2="345.6" y2="581.1" stroke="#000" stroke-width="4.4" />
<line x1="341.1" y1="528.2" x2="345.6" y2="580.6" stroke="#fff" stroke-width="2.0" />
<ellipse cx="345.6" cy="581.4" rx="4.6" ry="2.4" stroke="#000" stroke-width="0" fill="#000" />
<line x1="344.6" y1="578.1" x2="344.6" y2="580.6" stroke="#fff" stroke-width="2.0" />
<g transform="translate(341.1,528.2) rotate(-139.0)">
<path d="M0.00,0.00 C5.04,-5.10 15.12,-8.50 29.40,-8.50 C37.80,-8.50 42.00,-5.10 42.00,0.00 C42.00,5.10 37.80,8.50 29.40,8.50 C15.12,8.50 5.04,5.10 0.00,0.00 Z" fill="#000" stroke="#000" stroke-width="0.6"/>
<path d="M5.00,0.38 C9.07,-2.87 17.20,-5.03 28.73,-5.03 C35.51,-5.03 38.90,-2.87 38.90,0.38 C38.90,3.62 35.51,5.78 28.73,5.78 C17.20,5.78 9.07,3.62 5.00,0.38 Z" fill="none" stroke="#fff" stroke-width="2.1" stroke-dasharray="2.6 1.3" stroke-linecap="butt"/>
<path d="M11.00,1.50 C13.88,0.85 19.64,-1.20 27.80,-1.20 C32.60,-1.20 35.00,-0.12 35.00,1.50 C35.00,3.12 32.60,4.20 27.80,4.20 C19.64,4.20 13.88,2.15 11.00,1.50 Z" fill="#fff" stroke="none"/>
</g>
<g transform="translate(341.1,528.2) rotate(-72.0)">
<path d="M0.00,2.20 C5.62,-5.75 16.85,-11.05 32.76,-11.05 C42.12,-11.05 46.80,-5.75 46.80,2.20 C46.80,10.15 42.12,15.45 32.76,15.45 C16.85,15.45 5.62,10.15 0.00,2.20 Z" fill="#000" stroke="#000" stroke-width="0.6"/>
<path d="M5.00,1.55 C9.64,-4.54 18.93,-8.60 32.09,-8.60 C39.83,-8.60 43.70,-4.54 43.70,1.55 C43.70,7.64 39.83,11.70 32.09,11.70 C18.93,11.70 9.64,7.64 5.00,1.55 Z" fill="none" stroke="#fff" stroke-width="2.1" stroke-dasharray="2.6 1.3" stroke-linecap="butt"/>
<path d="M15.00,-0.40 C17.86,-1.72 23.57,-5.90 31.66,-5.90 C36.42,-5.90 38.80,-3.70 38.80,-0.40 C38.80,2.90 36.42,5.10 31.66,5.10 C23.57,5.10 17.86,0.92 15.00,-0.40 Z" fill="#fff" stroke="none"/>
</g>
<line x1="341.3" y1="385.5" x2="341.1" y2="528.2" stroke="#000" stroke-width="2.8" />
<line x1="341.3" y1="388.5" x2="341.1" y2="498.2" stroke="#777" stroke-width="0.5" />
<g transform="translate(341.1,528.2) rotate(108.0)">
<path d="M0.00,0.00 C5.06,-5.70 15.19,-9.50 29.54,-9.50 C37.98,-9.50 42.20,-5.70 42.20,0.00 C42.20,5.70 37.98,9.50 29.54,9.50 C15.19,9.50 5.06,5.70 0.00,0.00 Z" fill="#000" stroke="#000" stroke-width="0.6"/>
<path d="M5.00,0.45 C9.09,-3.39 17.28,-5.95 28.87,-5.95 C35.69,-5.95 39.10,-3.39 39.10,0.45 C39.10,4.29 35.69,6.85 28.87,6.85 C17.28,6.85 9.09,4.29 5.00,0.45 Z" fill="none" stroke="#fff" stroke-width="2.1" stroke-dasharray="2.6 1.3" stroke-linecap="butt"/>
<path d="M13.00,1.80 C15.64,1.03 20.92,-1.40 28.40,-1.40 C32.80,-1.40 35.00,-0.12 35.00,1.80 C35.00,3.72 32.80,5.00 28.40,5.00 C20.92,5.00 15.64,2.57 13.00,1.80 Z" fill="#fff" stroke="none"/>
</g>
<g transform="translate(341.1,528.2) rotate(30.0)">
<path d="M0.00,0.00 C4.94,-5.85 14.83,-9.75 28.84,-9.75 C37.08,-9.75 41.20,-5.85 41.20,0.00 C41.20,5.85 37.08,9.75 28.84,9.75 C14.83,9.75 4.94,5.85 0.00,0.00 Z" fill="#000" stroke="#000" stroke-width="0.6"/>
<path d="M5.00,-0.45 C8.97,-4.44 16.92,-7.10 28.17,-7.10 C34.79,-7.10 38.10,-4.44 38.10,-0.45 C38.10,3.54 34.79,6.20 28.17,6.20 C16.92,6.20 8.97,3.54 5.00,-0.45 Z" fill="none" stroke="#fff" stroke-width="2.1" stroke-dasharray="2.6 1.3" stroke-linecap="butt"/>
<path d="M12.00,-1.80 C14.66,-2.64 19.99,-5.30 27.54,-5.30 C31.98,-5.30 34.20,-3.90 34.20,-1.80 C34.20,0.30 31.98,1.70 27.54,1.70 C19.99,1.70 14.66,-0.96 12.00,-1.80 Z" fill="#fff" stroke="none"/>
</g>
<line x1="341.1" y1="532.2" x2="344.5" y2="567.9" stroke="#000" stroke-width="4.0" />
<line x1="343.1" y1="552.0" x2="344.5" y2="567.9" stroke="#fff" stroke-width="1.8" />
<line x1="340.2" y1="532.2" x2="342.2" y2="552.0" stroke="#fff" stroke-width="0.9" />
<g transform="translate(341.1,528.2) rotate(168.4)">
<path d="M0,0 C2.7,-6.3 20.7,-6.3 22.5,0 C20.7,6.3 2.7,6.3 0,0 Z" fill="#000" stroke="#000" stroke-width="1"/>
<path d="M5.6,-0.6 L20.2,-0.4" stroke="#fff" stroke-width="0.8" fill="none"/>
</g>
<g transform="translate(341.1,528.2) rotate(-25.6)">
<path d="M0,0 C3.3,-6.3 25.5,-6.3 27.7,0 C25.5,6.3 3.3,6.3 0,0 Z" fill="#000" stroke="#000" stroke-width="1"/>
<path d="M6.9,-0.6 L25.0,-0.4" stroke="#fff" stroke-width="0.8" fill="none"/>
</g>
<path d="M336.4,525.6 A4.7,6.0 0 0 0 345.8,525.6 A4.7,1.6 0 0 0 336.4,525.6 Z" stroke="#000" stroke-width="1.6" fill="#fff" />
<rect x="337.2" y="377.5" width="8.2" height="10.2" rx="2.8" ry="2.8" fill="#fff" stroke="#222" stroke-width="1.0"/>
<path d="M337.3,383.9 L345.3,383.9" stroke="#222" stroke-width="0.9" fill="none" />
<line x1="341.3" y1="384.7" x2="341.3" y2="387.5" stroke="#000" stroke-width="2.6" />
<path d="M276.4,657.8 C276.8,670.8 286.8,680.2 297.8,680.2 C308.8,680.2 318.8,670.8 319.2,657.8" stroke="#000" stroke-width="1.5" fill="#fff" />
<path d="M278.8,666.4 A21,12.6 0 0 0 316.8,666.4" stroke="#000" stroke-width="1.0" fill="none" />
<path d="M276.8,660.4 A21.4,12.6 0 0 0 318.8,660.4" stroke="#000" stroke-width="1.9" fill="none" />
<ellipse cx="297.8" cy="656.8" rx="21.4" ry="12.6" stroke="#000" stroke-width="1.5" fill="#fff" />
<line x1="309.3" y1="674.3" x2="308.8" y2="677.8" stroke="#000" stroke-width="0.9" />
<line x1="294.0" y1="604.4" x2="297.8" y2="657.8" stroke="#000" stroke-width="4.4" />
<line x1="294.0" y1="604.4" x2="297.8" y2="657.3" stroke="#fff" stroke-width="2.0" />
<ellipse cx="297.8" cy="658.1" rx="4.6" ry="2.4" stroke="#000" stroke-width="0" fill="#000" />
<line x1="296.8" y1="654.8" x2="296.8" y2="657.3" stroke="#fff" stroke-width="2.0" />
<g transform="translate(294.0,604.4) rotate(-139.0)">
<path d="M0.00,0.00 C5.04,-5.10 15.12,-8.50 29.40,-8.50 C37.80,-8.50 42.00,-5.10 42.00,0.00 C42.00,5.10 37.80,8.50 29.40,8.50 C15.12,8.50 5.04,5.10 0.00,0.00 Z" fill="#000" stroke="#000" stroke-width="0.6"/>
<path d="M5.00,0.38 C9.07,-2.87 17.20,-5.03 28.73,-5.03 C35.51,-5.03 38.90,-2.87 38.90,0.38 C38.90,3.62 35.51,5.78 28.73,5.78 C17.20,5.78 9.07,3.62 5.00,0.38 Z" fill="none" stroke="#fff" stroke-width="2.1" stroke-dasharray="2.6 1.3" stroke-linecap="butt"/>
<path d="M11.00,1.50 C13.88,0.85 19.64,-1.20 27.80,-1.20 C32.60,-1.20 35.00,-0.12 35.00,1.50 C35.00,3.12 32.60,4.20 27.80,4.20 C19.64,4.20 13.88,2.15 11.00,1.50 Z" fill="#fff" stroke="none"/>
</g>
<g transform="translate(294.0,604.4) rotate(-72.0)">
<path d="M0.00,2.20 C5.62,-5.75 16.85,-11.05 32.76,-11.05 C42.12,-11.05 46.80,-5.75 46.80,2.20 C46.80,10.15 42.12,15.45 32.76,15.45 C16.85,15.45 5.62,10.15 0.00,2.20 Z" fill="#000" stroke="#000" stroke-width="0.6"/>
<path d="M5.00,1.55 C9.64,-4.54 18.93,-8.60 32.09,-8.60 C39.83,-8.60 43.70,-4.54 43.70,1.55 C43.70,7.64 39.83,11.70 32.09,11.70 C18.93,11.70 9.64,7.64 5.00,1.55 Z" fill="none" stroke="#fff" stroke-width="2.1" stroke-dasharray="2.6 1.3" stroke-linecap="butt"/>
<path d="M15.00,-0.40 C17.86,-1.72 23.57,-5.90 31.66,-5.90 C36.42,-5.90 38.80,-3.70 38.80,-0.40 C38.80,2.90 36.42,5.10 31.66,5.10 C23.57,5.10 17.86,0.92 15.00,-0.40 Z" fill="#fff" stroke="none"/>
</g>
<line x1="293.3" y1="462.7" x2="294.0" y2="604.4" stroke="#000" stroke-width="2.8" />
<line x1="293.3" y1="465.7" x2="294.0" y2="574.4" stroke="#777" stroke-width="0.5" />
<g transform="translate(294.0,604.4) rotate(108.0)">
<path d="M0.00,0.00 C5.06,-5.70 15.19,-9.50 29.54,-9.50 C37.98,-9.50 42.20,-5.70 42.20,0.00 C42.20,5.70 37.98,9.50 29.54,9.50 C15.19,9.50 5.06,5.70 0.00,0.00 Z" fill="#000" stroke="#000" stroke-width="0.6"/>
<path d="M5.00,0.45 C9.09,-3.39 17.28,-5.95 28.87,-5.95 C35.69,-5.95 39.10,-3.39 39.10,0.45 C39.10,4.29 35.69,6.85 28.87,6.85 C17.28,6.85 9.09,4.29 5.00,0.45 Z" fill="none" stroke="#fff" stroke-width="2.1" stroke-dasharray="2.6 1.3" stroke-linecap="butt"/>
<path d="M13.00,1.80 C15.64,1.03 20.92,-1.40 28.40,-1.40 C32.80,-1.40 35.00,-0.12 35.00,1.80 C35.00,3.72 32.80,5.00 28.40,5.00 C20.92,5.00 15.64,2.57 13.00,1.80 Z" fill="#fff" stroke="none"/>
</g>
<g transform="translate(294.0,604.4) rotate(30.0)">
<path d="M0.00,0.00 C4.94,-5.85 14.83,-9.75 28.84,-9.75 C37.08,-9.75 41.20,-5.85 41.20,0.00 C41.20,5.85 37.08,9.75 28.84,9.75 C14.83,9.75 4.94,5.85 0.00,0.00 Z" fill="#000" stroke="#000" stroke-width="0.6"/>
<path d="M5.00,-0.45 C8.97,-4.44 16.92,-7.10 28.17,-7.10 C34.79,-7.10 38.10,-4.44 38.10,-0.45 C38.10,3.54 34.79,6.20 28.17,6.20 C16.92,6.20 8.97,3.54 5.00,-0.45 Z" fill="none" stroke="#fff" stroke-width="2.1" stroke-dasharray="2.6 1.3" stroke-linecap="butt"/>
<path d="M12.00,-1.80 C14.66,-2.64 19.99,-5.30 27.54,-5.30 C31.98,-5.30 34.20,-3.90 34.20,-1.80 C34.20,0.30 31.98,1.70 27.54,1.70 C19.99,1.70 14.66,-0.96 12.00,-1.80 Z" fill="#fff" stroke="none"/>
</g>
<line x1="294.0" y1="608.4" x2="296.9" y2="644.4" stroke="#000" stroke-width="4.0" />
<line x1="295.7" y1="628.4" x2="296.9" y2="644.4" stroke="#fff" stroke-width="1.8" />
<line x1="293.1" y1="608.4" x2="294.8" y2="628.4" stroke="#fff" stroke-width="0.9" />
<g transform="translate(294.0,604.4) rotate(168.4)">
<path d="M0,0 C2.7,-6.3 20.7,-6.3 22.5,0 C20.7,6.3 2.7,6.3 0,0 Z" fill="#000" stroke="#000" stroke-width="1"/>
<path d="M5.6,-0.6 L20.2,-0.4" stroke="#fff" stroke-width="0.8" fill="none"/>
</g>
<g transform="translate(294.0,604.4) rotate(-25.6)">
<path d="M0,0 C3.3,-6.3 25.5,-6.3 27.7,0 C25.5,6.3 3.3,6.3 0,0 Z" fill="#000" stroke="#000" stroke-width="1"/>
<path d="M6.9,-0.6 L25.0,-0.4" stroke="#fff" stroke-width="0.8" fill="none"/>
</g>
<path d="M289.3,601.8 A4.7,6.0 0 0 0 298.7,601.8 A4.7,1.6 0 0 0 289.3,601.8 Z" stroke="#000" stroke-width="1.6" fill="#fff" />
<rect x="289.2" y="454.7" width="8.2" height="10.2" rx="2.8" ry="2.8" fill="#fff" stroke="#222" stroke-width="1.0"/>
<path d="M289.3,461.1 L297.3,461.1" stroke="#222" stroke-width="0.9" fill="none" />
<line x1="293.3" y1="461.9" x2="293.3" y2="464.7" stroke="#000" stroke-width="2.6" />
<line x1="414.2" y1="361.0" x2="414.2" y2="418.0" stroke="#000" stroke-width="0.8" />
<ellipse cx="414.0" cy="360.8" rx="3.4" ry="1.5" stroke="#000" stroke-width="1.9" fill="#ccc" />
<ellipse cx="414.4" cy="384.0" rx="6.2" ry="3.1" stroke="#000" stroke-width="1.0" fill="#111" />
<ellipse cx="414.4" cy="383.2" rx="3.0" ry="1.2" stroke="#000" stroke-width="0" fill="#999" />
<path d="M406.9,419.5 L406.9,431.5 A7.5,3.1 0 0 0 421.9,431.5 L421.9,419.5" stroke="#000" stroke-width="1.1" fill="#fff" />
<ellipse cx="414.4" cy="419.5" rx="7.5" ry="3.1" stroke="#000" stroke-width="1.1" fill="#fff" />
<path d="M406.9,426.5 A7.5,3.1 0 0 0 421.9,426.5" stroke="#666" stroke-width="0.7" fill="none" />
<text x="410.5" y="424.5" font-family="Liberation Sans" font-size="5" text-anchor="middle" fill="#000" >r</text>
<line x1="395.0" y1="408.0" x2="395.3" y2="412.5" stroke="#000" stroke-width="2.2" />
<rect x="390.6" y="396.5" width="8.2" height="10.2" rx="2.8" ry="2.8" fill="#fff" stroke="#222" stroke-width="1.0"/>
<path d="M390.7,402.9 L398.7,402.9" stroke="#222" stroke-width="0.9" fill="none" />
<line x1="394.7" y1="403.7" x2="394.7" y2="406.5" stroke="#000" stroke-width="2.6" />
<path d="M413,397.5 C398,397 390,388 392.5,380 C394.5,373.5 400,370 405,368.5" stroke="#000" stroke-width="1.0" fill="none" />
<polygon points="414.0,366.3 402.4,373.4 402.9,369.1 400.4,365.5" fill="#000"/>
<line x1="413.0" y1="397.5" x2="430.0" y2="394.8" stroke="#000" stroke-width="1.0" />
<polygon points="440.5,393.0 428.4,399.3 429.2,395.0 427.0,391.2" fill="#000"/>
<path d="M419,443.5 C400,444 388,436.5 389,427 C390,420 396,416.5 401,415" stroke="#000" stroke-width="1.0" fill="none" />
<polygon points="411.0,412.3 399.4,419.4 399.9,415.1 397.4,411.5" fill="#000"/>
<line x1="419.0" y1="443.5" x2="426.0" y2="442.0" stroke="#000" stroke-width="1.0" />
<polygon points="435.5,438.8 423.9,445.9 424.4,441.6 421.9,438.0" fill="#000"/>
<ellipse cx="378.9" cy="378.8" rx="9.8" ry="9.8" stroke="#000" stroke-width="1.1" fill="#fff" />
<text x="378.9" y="385.7" font-family="Liberation Serif" font-size="21" text-anchor="middle" fill="#000" >7</text>
<ellipse cx="380.7" cy="414.0" rx="9.8" ry="9.8" stroke="#000" stroke-width="1.1" fill="#fff" />
<text x="380.7" y="420.9" font-family="Liberation Serif" font-size="21" text-anchor="middle" fill="#000" >8</text>
<ellipse cx="437.0" cy="409.5" rx="9.8" ry="9.8" stroke="#000" stroke-width="1.1" fill="#fff" />
<text x="437.0" y="416.4" font-family="Liberation Serif" font-size="21" text-anchor="middle" fill="#000" >2</text>
<ellipse cx="428.9" cy="458.2" rx="9.8" ry="9.8" stroke="#000" stroke-width="1.1" fill="#fff" />
<text x="428.9" y="465.1" font-family="Liberation Serif" font-size="21" text-anchor="middle" fill="#000" >1</text>
<line x1="673.2" y1="211.0" x2="673.4" y2="268.0" stroke="#000" stroke-width="0.8" />
<ellipse cx="672.5" cy="210.0" rx="3.2" ry="1.4" stroke="#000" stroke-width="1.9" fill="#ccc" />
<ellipse cx="673.4" cy="233.5" rx="5.2" ry="2.7" stroke="#000" stroke-width="1.0" fill="#111" />
<ellipse cx="673.4" cy="232.8" rx="2.6" ry="1.0" stroke="#000" stroke-width="0" fill="#999" />
<path d="M668.2,268.0 L668.2,282.0 A5.8,2.4 0 0 0 679.8,282.0 L679.8,268.0" stroke="#000" stroke-width="1.1" fill="#fff" />
<ellipse cx="674.0" cy="268.0" rx="5.8" ry="2.4" stroke="#000" stroke-width="1.1" fill="#fff" />
<path d="M668.2,277.0 A5.8,2.4 0 0 0 679.8,277.0" stroke="#666" stroke-width="0.7" fill="none" />
<path d="M14.6,396.6 L202.2,396.6 L202.2,657.5 L277,667 M277,670 L202.5,692 L202.5,707 L15,707" stroke="#000" stroke-width="1.1" fill="none" />
<line x1="14.6" y1="396.6" x2="15.0" y2="707.0" stroke="#000" stroke-width="1.1" />
<path d="M93.8,397 L93.8,420 M100.8,397 L100.8,420" stroke="#000" stroke-width="1.2" fill="none" />
<path d="M55.6,419 L55.6,425 A41.5,10 0 0 0 138.6,425 L138.6,419" stroke="#000" stroke-width="1.3" fill="#fff" />
<ellipse cx="97.1" cy="419.0" rx="41.5" ry="10.0" stroke="#000" stroke-width="1.3" fill="#fff" />
<rect x="94.4" y="400" width="5.8" height="19.5" fill="#fff"/>
<path d="M93.8,397 L93.8,419.5 M100.8,397 L100.8,419.5" stroke="#000" stroke-width="1.2" fill="none" />
<path d="M86.5,419 A4.2,1.9 0 1 0 93.8,417.8 M100.8,417.8 A4.2,1.9 0 1 1 108,419 A4.2,1.9 0 0 1 100.8,420.4" stroke="#000" stroke-width="1.1" fill="none" />
<path d="M94.3,435 L94.3,448 M100.6,435 L100.6,448" stroke="#000" stroke-width="1.2" fill="none" />
<rect x="89.6" y="447.2" width="16.4" height="10" rx="1.5" fill="#fff" stroke="#000" stroke-width="1.3"/>
<ellipse cx="97.8" cy="448.6" rx="6.4" ry="1.6" stroke="#000" stroke-width="1.0" fill="none" />
<rect x="91.8" y="457" width="12" height="22" rx="1" fill="#111" stroke="#000" stroke-width="1"/>
<line x1="92.5" y1="460.0" x2="103.0" y2="460.0" stroke="#777" stroke-width="0.4" />
<line x1="92.5" y1="463.0" x2="103.0" y2="463.0" stroke="#777" stroke-width="0.4" />
<line x1="92.5" y1="466.0" x2="103.0" y2="466.0" stroke="#777" stroke-width="0.4" />
<line x1="92.5" y1="469.0" x2="103.0" y2="469.0" stroke="#777" stroke-width="0.4" />
<line x1="92.5" y1="472.0" x2="103.0" y2="472.0" stroke="#777" stroke-width="0.4" />
<line x1="92.5" y1="475.0" x2="103.0" y2="475.0" stroke="#777" stroke-width="0.4" />
<ellipse cx="29.6" cy="412.2" rx="9.8" ry="9.8" stroke="#000" stroke-width="1.1" fill="#fff" />
<text x="29.6" y="417.6" font-family="Liberation Serif" font-size="21.5" text-anchor="middle" fill="#000" >c</text>
<ellipse cx="29.6" cy="436.7" rx="9.8" ry="9.8" stroke="#000" stroke-width="1.1" fill="#fff" />
<text x="29.6" y="441.7" font-family="Liberation Serif" font-size="18.5" text-anchor="middle" fill="#000" >m</text>
<line x1="46.2" y1="413.8" x2="46.2" y2="435.7" stroke="#000" stroke-width="1.2" />
<polygon points="46.2,443.5 42.3,430.5 46.2,432.1 50.1,430.5" fill="#000"/>
<polygon points="46.2,406.0 50.1,419.0 46.2,417.4 42.3,419.0" fill="#000"/>
<ellipse cx="52.7" cy="464.4" rx="9.8" ry="9.8" stroke="#000" stroke-width="1.1" fill="#fff" />
<text x="52.7" y="470.6" font-family="Liberation Serif" font-size="21.5" text-anchor="middle" fill="#000" >d</text>
<line x1="67.1" y1="474.5" x2="67.1" y2="451.8" stroke="#000" stroke-width="1.2" />
<polygon points="67.1,444.0 71.0,457.0 67.1,455.4 63.2,457.0" fill="#000"/>
<ellipse cx="145.6" cy="462.2" rx="9.8" ry="9.8" stroke="#000" stroke-width="1.1" fill="#fff" />
<text x="145.6" y="468.8" font-family="Liberation Serif" font-size="21.5" text-anchor="middle" fill="#000" >l</text>
<line x1="129.6" y1="449.0" x2="129.6" y2="470.2" stroke="#000" stroke-width="1.2" />
<polygon points="129.6,478.0 125.7,465.0 129.6,466.6 133.5,465.0" fill="#000"/>
<path d="M91,457.5 C76,458 68.5,463 70.5,468.5 C71.5,471 74,472.5 77,473.2" stroke="#000" stroke-width="1.2" fill="none" />
<polygon points="85.0,474.5 73.6,476.6 75.4,473.2 74.6,469.3" fill="#000"/>
<path d="M104.5,457.5 C119,458 126,463 124,468.5 C123,471 120,472.6 117,473.2" stroke="#000" stroke-width="1.2" fill="none" />
<polygon points="109.0,474.5 119.4,469.3 118.6,473.2 120.4,476.6" fill="#000"/>
<path d="M96,479 C94.5,492 95,505 98.5,521" stroke="#000" stroke-width="3.0" fill="none" />
<path d="M96,479 C94.5,492 95,505 98.5,521" stroke="#fff" stroke-width="1.3" fill="none" />
<ellipse cx="80.0" cy="485.6" rx="3.6" ry="2.0" stroke="#000" stroke-width="1.3" fill="#fff" />
<path d="M77,487 L78.6,491 L81.4,491 L83,487" stroke="#000" stroke-width="1.1" fill="#fff" />
<path d="M78.8,491 L78.8,497 M81.2,491 L81.2,497" stroke="#000" stroke-width="1.0" fill="none" />
<rect x="76.4" y="497" width="7.4" height="8.2" rx="2" fill="#fff" stroke="#000" stroke-width="1.1"/>
<line x1="76.6" y1="501.0" x2="83.6" y2="501.0" stroke="#000" stroke-width="0.8" />
<path d="M74,489.5 C60,490 53,494.5 54.5,499.5 C55.5,502 58,503.5 61,504.2" stroke="#000" stroke-width="1.2" fill="none" />
<polygon points="69.0,505.6 57.6,507.7 59.4,504.3 58.6,500.4" fill="#000"/>
<path d="M86,489.5 C100,489.5 108.5,494 107,499.5 C106,502.5 103,504 100,504.5" stroke="#000" stroke-width="1.2" fill="none" />
<polygon points="92.5,505.6 102.9,500.4 102.1,504.3 103.9,507.7" fill="#000"/>
<ellipse cx="35.1" cy="501.8" rx="9.8" ry="9.8" stroke="#000" stroke-width="1.1" fill="#fff" />
<text x="35.1" y="507.2" font-family="Liberation Serif" font-size="21.5" text-anchor="middle" fill="#000" >e</text>
<line x1="49.3" y1="512.5" x2="49.3" y2="490.8" stroke="#000" stroke-width="1.2" />
<polygon points="49.3,483.0 53.2,496.0 49.3,494.4 45.4,496.0" fill="#000"/>
<ellipse cx="128.9" cy="495.6" rx="9.8" ry="9.8" stroke="#000" stroke-width="1.1" fill="#fff" />
<text x="128.9" y="502.2" font-family="Liberation Serif" font-size="21.5" text-anchor="middle" fill="#000" >k</text>
<line x1="115.6" y1="481.0" x2="115.6" y2="502.7" stroke="#000" stroke-width="1.2" />
<polygon points="115.6,510.5 111.7,497.5 115.6,499.1 119.5,497.5" fill="#000"/>
<ellipse cx="151.3" cy="512.6" rx="9.8" ry="9.8" stroke="#000" stroke-width="1.1" fill="#fff" />
<text x="151.3" y="519.2" font-family="Liberation Serif" font-size="21.5" text-anchor="middle" fill="#000" >f</text>
<ellipse cx="148.6" cy="538.9" rx="9.8" ry="9.8" stroke="#000" stroke-width="1.1" fill="#fff" />
<text x="148.6" y="545.5" font-family="Liberation Serif" font-size="21.5" text-anchor="middle" fill="#000" >i</text>
<line x1="133.8" y1="509.3" x2="133.8" y2="536.0" stroke="#000" stroke-width="1.2" />
<polygon points="133.8,543.8 129.9,530.8 133.8,532.4 137.7,530.8" fill="#000"/>
<polygon points="133.8,501.5 137.7,514.5 133.8,512.9 129.9,514.5" fill="#000"/>
<ellipse cx="42.8" cy="526.3" rx="9.8" ry="9.8" stroke="#000" stroke-width="1.1" fill="#fff" />
<text x="42.8" y="530.3" font-family="Liberation Serif" font-size="21.5" text-anchor="middle" fill="#000" >g</text>
<path d="M81.3,532 C82,548 80,562 72,582" stroke="#000" stroke-width="3.0" fill="none" />
<path d="M81.3,532 C82,548 80,562 72,582" stroke="#fff" stroke-width="1.3" fill="none" />
<path d="M98.2,532 L98.8,583" stroke="#000" stroke-width="3.0" fill="none" />
<path d="M98.2,532 L98.8,583" stroke="#fff" stroke-width="1.3" fill="none" />
<ellipse cx="96.8" cy="524.9" rx="29.2" ry="7.5" stroke="#000" stroke-width="1.0" fill="#111" />
<ellipse cx="91.1" cy="528.5" rx="2.1" ry="1.1" stroke="#000" stroke-width="0" fill="#fff" />
<ellipse cx="102.9" cy="524.0" rx="1.4" ry="1.1" stroke="#000" stroke-width="0" fill="#fff" />
<ellipse cx="84.6" cy="528.9" rx="1.2" ry="0.8" stroke="#000" stroke-width="0" fill="#fff" />
<ellipse cx="99.7" cy="520.8" rx="2.1" ry="0.7" stroke="#000" stroke-width="0" fill="#fff" />
<ellipse cx="94.1" cy="526.6" rx="1.2" ry="1.0" stroke="#000" stroke-width="0" fill="#fff" />
<ellipse cx="102.0" cy="522.7" rx="1.8" ry="0.6" stroke="#000" stroke-width="0" fill="#fff" />
<ellipse cx="75.6" cy="527.3" rx="2.1" ry="0.8" stroke="#000" stroke-width="0" fill="#fff" />
<ellipse cx="104.9" cy="527.3" rx="1.2" ry="1.0" stroke="#000" stroke-width="0" fill="#fff" />
<ellipse cx="109.2" cy="523.7" rx="1.9" ry="0.8" stroke="#000" stroke-width="0" fill="#fff" />
<ellipse cx="100.6" cy="522.9" rx="1.1" ry="1.0" stroke="#000" stroke-width="0" fill="#fff" />
<ellipse cx="92.6" cy="528.0" rx="1.2" ry="1.1" stroke="#000" stroke-width="0" fill="#fff" />
<ellipse cx="82.9" cy="527.4" rx="1.2" ry="1.0" stroke="#000" stroke-width="0" fill="#fff" />
<ellipse cx="90.3" cy="523.5" rx="1.1" ry="1.1" stroke="#000" stroke-width="0" fill="#fff" />
<ellipse cx="79.7" cy="520.3" rx="1.1" ry="0.9" stroke="#000" stroke-width="0" fill="#fff" />
<ellipse cx="85.8" cy="529.1" rx="1.9" ry="0.6" stroke="#000" stroke-width="0" fill="#fff" />
<ellipse cx="75.7" cy="524.2" rx="1.1" ry="1.0" stroke="#000" stroke-width="0" fill="#fff" />
<ellipse cx="87.3" cy="523.0" rx="1.9" ry="1.1" stroke="#000" stroke-width="0" fill="#fff" />
<ellipse cx="104.6" cy="518.9" rx="1.3" ry="0.7" stroke="#000" stroke-width="0" fill="#fff" />
<ellipse cx="120.6" cy="523.5" rx="1.6" ry="1.0" stroke="#000" stroke-width="0" fill="#fff" />
<ellipse cx="86.9" cy="528.2" rx="1.9" ry="0.6" stroke="#000" stroke-width="0" fill="#fff" />
<ellipse cx="117.2" cy="522.2" rx="2.2" ry="0.9" stroke="#000" stroke-width="0" fill="#fff" />
<ellipse cx="72.4" cy="526.4" rx="1.8" ry="1.0" stroke="#000" stroke-width="0" fill="#fff" />
<ellipse cx="107.7" cy="529.4" rx="1.5" ry="0.9" stroke="#000" stroke-width="0" fill="#fff" />
<ellipse cx="90.0" cy="522.0" rx="1.9" ry="1.1" stroke="#000" stroke-width="0" fill="#fff" />
<ellipse cx="88.6" cy="531.2" rx="2.3" ry="0.7" stroke="#000" stroke-width="0" fill="#fff" />
<ellipse cx="84.4" cy="523.2" rx="1.3" ry="0.9" stroke="#000" stroke-width="0" fill="#fff" />
<ellipse cx="92.6" cy="523.8" rx="1.6" ry="0.8" stroke="#000" stroke-width="0" fill="#fff" />
<ellipse cx="73.2" cy="527.0" rx="1.9" ry="1.1" stroke="#000" stroke-width="0" fill="#fff" />
<ellipse cx="98.3" cy="530.2" rx="1.6" ry="0.9" stroke="#000" stroke-width="0" fill="#fff" />
<ellipse cx="78.2" cy="526.3" rx="2.1" ry="0.9" stroke="#000" stroke-width="0" fill="#fff" />
<ellipse cx="82.8" cy="528.1" rx="1.5" ry="0.8" stroke="#000" stroke-width="0" fill="#fff" />
<ellipse cx="84.3" cy="523.6" rx="1.1" ry="0.9" stroke="#000" stroke-width="0" fill="#fff" />
<ellipse cx="93.6" cy="519.8" rx="2.0" ry="1.1" stroke="#000" stroke-width="0" fill="#fff" />
<ellipse cx="99.4" cy="523.1" rx="1.4" ry="0.9" stroke="#000" stroke-width="0" fill="#fff" />
<rect x="91.8" y="523.9" width="16" height="5.5" fill="#111" transform="rotate(-6 96.8 524.9)"/>
<path d="M68,521.5 C62,532 50,540 36,544.2" stroke="#000" stroke-width="2.6" fill="none" />
<polygon points="30.5,545.8 40.1,539.2 39.8,543.1 42.1,546.3" fill="#000"/>
<path d="M144.5,561.6 C133,558 124,549 119.4,540" stroke="#000" stroke-width="2.6" fill="none" />
<polygon points="115.2,533.0 124.2,540.4 120.3,541.2 117.9,544.3" fill="#000"/>
<ellipse cx="118.2" cy="557.6" rx="9.8" ry="9.8" stroke="#000" stroke-width="1.1" fill="#fff" />
<text x="118.2" y="564.2" font-family="Liberation Serif" font-size="21.5" text-anchor="middle" fill="#000" >h</text>
<path d="M181.5,573 C181,584 174,590 164.5,590.5" stroke="#000" stroke-width="3.6" fill="none" />
<path d="M181.5,573 C181,584 174,590 164.5,590.5" stroke="#fff" stroke-width="1.0" fill="none" />
<path d="M176.5,573 C176,581 171,586 164.5,587" stroke="#000" stroke-width="3.2" fill="none" />
<path d="M176.5,573 C176,581 171,586 164.5,587" stroke="#fff" stroke-width="0.9" fill="none" />
<ellipse cx="170.8" cy="566.1" rx="29.2" ry="7.5" stroke="#000" stroke-width="1.0" fill="#111" />
<ellipse cx="182.9" cy="568.0" rx="1.9" ry="0.8" stroke="#000" stroke-width="0" fill="#fff" />
<ellipse cx="167.4" cy="564.4" rx="1.0" ry="0.8" stroke="#000" stroke-width="0" fill="#fff" />
<ellipse cx="152.0" cy="562.6" rx="1.3" ry="0.8" stroke="#000" stroke-width="0" fill="#fff" />
<ellipse cx="167.0" cy="564.7" rx="1.1" ry="1.1" stroke="#000" stroke-width="0" fill="#fff" />
<ellipse cx="158.6" cy="569.8" rx="2.1" ry="0.8" stroke="#000" stroke-width="0" fill="#fff" />
<ellipse cx="177.2" cy="563.0" rx="1.3" ry="1.0" stroke="#000" stroke-width="0" fill="#fff" />
<ellipse cx="173.5" cy="569.5" rx="1.6" ry="0.7" stroke="#000" stroke-width="0" fill="#fff" />
<ellipse cx="170.9" cy="564.2" rx="2.2" ry="1.1" stroke="#000" stroke-width="0" fill="#fff" />
<ellipse cx="170.3" cy="569.9" rx="1.5" ry="0.7" stroke="#000" stroke-width="0" fill="#fff" />
<ellipse cx="182.0" cy="562.1" rx="1.8" ry="0.9" stroke="#000" stroke-width="0" fill="#fff" />
<ellipse cx="173.8" cy="562.5" rx="1.9" ry="1.0" stroke="#000" stroke-width="0" fill="#fff" />
<ellipse cx="177.0" cy="567.4" rx="1.0" ry="0.9" stroke="#000" stroke-width="0" fill="#fff" />
<ellipse cx="171.7" cy="559.7" rx="2.2" ry="0.7" stroke="#000" stroke-width="0" fill="#fff" />
<ellipse cx="164.7" cy="571.0" rx="1.1" ry="0.9" stroke="#000" stroke-width="0" fill="#fff" />
<ellipse cx="151.9" cy="563.0" rx="1.2" ry="1.1" stroke="#000" stroke-width="0" fill="#fff" />
<ellipse cx="157.7" cy="569.4" rx="1.8" ry="0.7" stroke="#000" stroke-width="0" fill="#fff" />
<ellipse cx="189.9" cy="566.4" rx="1.7" ry="0.8" stroke="#000" stroke-width="0" fill="#fff" />
<ellipse cx="174.2" cy="560.9" rx="1.1" ry="1.0" stroke="#000" stroke-width="0" fill="#fff" />
<ellipse cx="163.2" cy="563.1" rx="2.2" ry="0.8" stroke="#000" stroke-width="0" fill="#fff" />
<ellipse cx="183.7" cy="570.4" rx="1.8" ry="1.1" stroke="#000" stroke-width="0" fill="#fff" />
<ellipse cx="179.4" cy="567.9" rx="1.5" ry="0.7" stroke="#000" stroke-width="0" fill="#fff" />
<ellipse cx="168.0" cy="561.8" rx="1.7" ry="0.8" stroke="#000" stroke-width="0" fill="#fff" />
<ellipse cx="172.2" cy="569.2" rx="2.1" ry="0.9" stroke="#000" stroke-width="0" fill="#fff" />
<ellipse cx="176.1" cy="561.9" rx="2.1" ry="1.0" stroke="#000" stroke-width="0" fill="#fff" />
<ellipse cx="160.6" cy="568.0" rx="2.2" ry="1.0" stroke="#000" stroke-width="0" fill="#fff" />
<ellipse cx="174.9" cy="561.2" rx="2.0" ry="0.6" stroke="#000" stroke-width="0" fill="#fff" />
<ellipse cx="184.6" cy="563.0" rx="1.1" ry="0.9" stroke="#000" stroke-width="0" fill="#fff" />
<ellipse cx="171.2" cy="568.5" rx="1.2" ry="1.1" stroke="#000" stroke-width="0" fill="#fff" />
<ellipse cx="188.6" cy="568.0" rx="1.7" ry="1.0" stroke="#000" stroke-width="0" fill="#fff" />
<ellipse cx="154.9" cy="564.5" rx="2.2" ry="0.7" stroke="#000" stroke-width="0" fill="#fff" />
<ellipse cx="156.6" cy="564.9" rx="1.9" ry="0.8" stroke="#000" stroke-width="0" fill="#fff" />
<ellipse cx="157.0" cy="567.8" rx="2.1" ry="0.9" stroke="#000" stroke-width="0" fill="#fff" />
<ellipse cx="173.8" cy="561.9" rx="1.4" ry="1.0" stroke="#000" stroke-width="0" fill="#fff" />
<ellipse cx="186.7" cy="567.0" rx="2.1" ry="0.7" stroke="#000" stroke-width="0" fill="#fff" />
<rect x="165.8" y="565.1" width="16" height="5.5" fill="#111" transform="rotate(-6 170.8 566.1)"/>
<rect x="147.5" y="585.3" width="15" height="6.6" fill="#fff" stroke="#000" stroke-width="1.2" transform="rotate(24 155 588.5)"/>
<rect x="160.5" y="585.3" width="3" height="6.6" fill="#000" transform="rotate(24 155 588.5)"/>
<path d="M58.5,588 C60,594 74,599.5 95,599.5 C116,599.5 130,594.5 131.5,588" stroke="#000" stroke-width="1.3" fill="none" />
<path d="M54,582.5 C55,592 72,596.5 95,596.5 C118,596.5 135,592 136.2,582.5" stroke="#000" stroke-width="1.8" fill="#fff" />
<ellipse cx="94.9" cy="580.7" rx="41.3" ry="11.4" stroke="#000" stroke-width="1.5" fill="#fff" />
<ellipse cx="95.0" cy="580.2" rx="35.0" ry="8.2" stroke="#000" stroke-width="1.2" fill="#fff" />
<path d="M62,582.5 C68,588.5 122,588.5 128,582.5" stroke="#000" stroke-width="1.0" fill="none" />
<path d="M81,560 C80,568 77,575 72.5,583" stroke="#000" stroke-width="3.0" fill="none" />
<path d="M81,560 C80,568 77,575 72.5,583" stroke="#fff" stroke-width="1.3" fill="none" />
<path d="M98.5,560 L98.8,584" stroke="#000" stroke-width="3.0" fill="none" />
<path d="M98.5,560 L98.8,584" stroke="#fff" stroke-width="1.3" fill="none" />
<path d="M58.9,591.2 C48,593 38,594 36,600 C35,606 36,611 41.4,615.5" stroke="#000" stroke-width="2.6" fill="none" />
<path d="M58.9,591.2 C48,593 38,594 36,600 C35,606 36,611 41.4,615.5" stroke="#fff" stroke-width="1.0" fill="none" />
<path d="M99.8,599.5 C101,607 102.5,615 100.5,621 C98,627 90,627.6 77,627.2" stroke="#000" stroke-width="2.6" fill="none" />
<path d="M99.8,599.5 C101,607 102.5,615 100.5,621 C98,627 90,627.6 77,627.2" stroke="#fff" stroke-width="1.0" fill="none" />
<ellipse cx="72.5" cy="604.1" rx="9.8" ry="9.8" stroke="#000" stroke-width="1.1" fill="#fff" />
<text x="72.5" y="608.7" font-family="Liberation Serif" font-size="21.5" text-anchor="middle" fill="#000" >j</text>
<rect x="41.2" y="613.4" width="11" height="6.4" fill="#fff" stroke="#000" stroke-width="1.2" transform="rotate(24 46.7 616.6)"/>
<rect x="52.5" y="615.2" width="4.4" height="3.4" fill="#000" transform="rotate(24 46.7 616.6)"/>
<rect x="58.5" y="620.2" width="15" height="6.8" fill="#fff" stroke="#000" stroke-width="1.2" transform="rotate(24 66 623.6)"/>
<line x1="72.3" y1="623.2" x2="71.0" y2="629.2" stroke="#000" stroke-width="1.0" />
<line x1="36.5" y1="604.1" x2="48.9" y2="609.3" stroke="#000" stroke-width="1.3" />
<polygon points="55.0,611.9 43.5,610.9 46.1,608.1 46.2,604.4" fill="#000"/>
<line x1="82.3" y1="621.6" x2="70.9" y2="617.2" stroke="#000" stroke-width="1.3" />
<polygon points="64.7,614.8 76.2,615.5 73.7,618.3 73.7,622.0" fill="#000"/>
<line x1="40.7" y1="625.0" x2="63.7" y2="634.0" stroke="#000" stroke-width="1.3" />
<polygon points="69.8,636.4 58.3,635.6 60.8,632.9 60.8,629.1" fill="#000"/>
<polygon points="34.6,622.6 46.1,623.4 43.6,626.1 43.6,629.9" fill="#000"/>
<ellipse cx="43.8" cy="641.6" rx="9.8" ry="9.8" stroke="#000" stroke-width="1.1" fill="#fff" />
<text x="43.8" y="648.0" font-family="Liberation Serif" font-size="21.5" text-anchor="middle" fill="#000" >b</text>
<path d="M56.6,646.5 C57,668 74,685 97.5,685 C121,685 138,668 138.5,646.5" stroke="#000" stroke-width="1.4" fill="#fff" />
<ellipse cx="97.5" cy="646.0" rx="41.0" ry="9.6" stroke="#000" stroke-width="1.7" fill="#fff" />
<path d="M61,648.5 C63,642.5 80,640 97.5,640 C115,640 132,642.5 134,648.5 C131,653.5 115,655.5 97.5,655.5 C80,655.5 64,653.5 61,648.5 Z" stroke="#000" stroke-width="1.8" fill="none" />
<path d="M62.5,650 C70,645.5 125,645.5 132.5,650" stroke="#000" stroke-width="1.0" fill="none" />
<path d="M76,675.5 C86,670 109,670 119,675.5" stroke="#000" stroke-width="1.2" fill="none" />
<path d="M76,675.5 C70,679.5 70.5,685.5 77,688.8" stroke="#000" stroke-width="1.6" fill="none" />
<polygon points="86.5,691.5 75.0,692.3 77.1,689.2 76.7,685.3" fill="#000"/>
<path d="M119,675.5 C125,679.5 124.5,685.5 118,688.8" stroke="#000" stroke-width="1.6" fill="none" />
<polygon points="108.5,691.5 118.3,685.3 117.9,689.2 120.0,692.3" fill="#000"/>
<ellipse cx="48.8" cy="688.0" rx="9.8" ry="9.8" stroke="#000" stroke-width="1.1" fill="#fff" />
<text x="48.8" y="693.4" font-family="Liberation Serif" font-size="21.5" text-anchor="middle" fill="#000" >n</text>
<line x1="64.5" y1="700.0" x2="64.5" y2="679.3" stroke="#000" stroke-width="1.2" />
<polygon points="64.5,671.5 68.4,684.5 64.5,682.9 60.6,684.5" fill="#000"/>
<ellipse cx="147.5" cy="687.0" rx="9.8" ry="9.8" stroke="#000" stroke-width="1.1" fill="#fff" />
<text x="147.5" y="692.4" font-family="Liberation Serif" font-size="21.5" text-anchor="middle" fill="#000" >a</text>
<line x1="132.5" y1="672.0" x2="132.5" y2="693.7" stroke="#000" stroke-width="1.2" />
<polygon points="132.5,701.5 128.6,688.5 132.5,690.1 136.4,688.5" fill="#000"/>
<path d="M814,234.2 L836.2,239.3 L838.3,232.6 L1008.3,232.4 M814,236 L839.3,260.5 L840.3,500.6 L1009.3,500.3" stroke="#000" stroke-width="1.1" fill="none" />
<path d="M913.0,322.0 L912.0,321.9 L911.1,321.5 L910.2,320.8 L909.3,319.9 L908.4,318.8 L907.6,317.6 L906.7,316.2 L905.8,314.8 L904.9,313.4 L904.0,312.0 L903.0,310.6 L902.0,309.0 L901.0,307.4 L899.9,305.7 L898.9,303.9 L897.8,302.1 L896.8,300.2 L895.8,298.4 L894.9,296.7 L894.0,295.0 L893.2,293.4 L892.3,291.7 L891.5,290.1 L890.8,288.5 L890.0,286.9 L889.3,285.4 L888.7,283.8 L888.1,282.2 L887.5,280.6 L887.0,279.0 L886.5,277.4 L886.1,275.7 L885.7,274.1 L885.4,272.4 L885.1,270.8 L884.8,269.1 L884.7,267.5 L884.6,265.9 L884.5,264.4 L884.6,263.0 L884.7,261.6 L884.9,260.3 L885.2,259.0 L885.6,257.8 L886.0,256.6 L886.4,255.4 L887.0,254.3 L887.6,253.1 L888.3,252.1 L889.0,251.0 L889.8,250.0 L890.7,248.9 L891.7,247.9 L892.8,246.9 L893.9,245.9 L895.1,245.0 L896.3,244.2 L897.5,243.4 L898.7,242.6 L900.0,242.0 L901.3,241.4 L902.6,240.9 L904.0,240.5 L905.4,240.1 L906.8,239.8 L908.3,239.5 L909.7,239.3 L911.2,239.1 L912.6,239.0 L914.0,239.0 L915.4,239.0 L916.8,239.1 L918.3,239.3 L919.7,239.5 L921.2,239.8 L922.6,240.1 L924.0,240.5 L925.4,240.9 L926.7,241.4 L928.0,242.0 L929.2,242.6 L930.5,243.4 L931.7,244.1 L932.9,245.0 L934.1,245.9 L935.2,246.8 L936.2,247.8 L937.2,248.8 L938.2,249.9 L939.0,251.0 L939.8,252.1 L940.5,253.3 L941.2,254.5 L941.8,255.7 L942.3,257.0 L942.8,258.3 L943.2,259.7 L943.6,261.1 L943.8,262.5 L944.0,264.0 L944.1,265.5 L944.1,267.2 L944.0,268.9 L943.8,270.6 L943.6,272.4 L943.3,274.2 L942.9,275.9 L942.5,277.7 L942.1,279.4 L941.6,281.0 L941.1,282.6 L940.5,284.1 L939.8,285.7 L939.0,287.2 L938.3,288.7 L937.5,290.2 L936.6,291.6 L935.8,293.1 L934.9,294.5 L934.0,296.0 L933.1,297.4 L932.2,298.9 L931.2,300.3 L930.2,301.8 L929.2,303.2 L928.2,304.6 L927.1,306.0 L926.1,307.3 L925.1,308.7 L924.0,310.0 L922.9,311.4 L921.8,312.9 L920.7,314.4 L919.6,316.0 L918.4,317.5 L917.3,318.9 L916.2,320.1 L915.1,321.0 L914.0,321.7 Z" stroke="#000" stroke-width="2.4" fill="#fff" />
<line x1="911.1" y1="279.4" x2="903.9" y2="311.0" stroke="#000" stroke-width="1.25" />
<line x1="907.1" y1="273.4" x2="892.8" y2="291.4" stroke="#000" stroke-width="1.25" />
<line x1="905.1" y1="268.6" x2="887.1" y2="277.2" stroke="#000" stroke-width="1.25" />
<line x1="903.9" y1="264.0" x2="885.2" y2="264.0" stroke="#000" stroke-width="1.25" />
<line x1="904.3" y1="259.0" x2="889.2" y2="251.8" stroke="#000" stroke-width="1.25" />
<line x1="906.7" y1="254.1" x2="898.3" y2="243.6" stroke="#000" stroke-width="1.25" />
<line x1="911.5" y1="250.6" x2="909.1" y2="240.0" stroke="#000" stroke-width="1.25" />
<line x1="917.7" y1="250.6" x2="920.0" y2="240.1" stroke="#000" stroke-width="1.25" />
<line x1="922.6" y1="254.0" x2="930.5" y2="244.1" stroke="#000" stroke-width="1.25" />
<line x1="925.3" y1="258.9" x2="939.1" y2="252.2" stroke="#000" stroke-width="1.25" />
<line x1="925.7" y1="264.0" x2="943.4" y2="264.0" stroke="#000" stroke-width="1.25" />
<line x1="924.4" y1="268.7" x2="942.0" y2="277.2" stroke="#000" stroke-width="1.25" />
<line x1="922.3" y1="273.6" x2="936.3" y2="291.2" stroke="#000" stroke-width="1.25" />
<line x1="918.1" y1="279.2" x2="924.7" y2="308.3" stroke="#000" stroke-width="1.25" />
<path d="M908.4,291.0 L901.8,280.0 L898.4,271.8 L896.9,264.0 L898.6,256.3 L903.5,250.1 L910.6,246.6 L918.6,246.6 L925.6,250.3 L930.4,256.4 L932.3,264.0 L931.0,271.9 L927.4,280.1 L920.5,289.9 Z" stroke="#000" stroke-width="1.25" fill="none" />
<path d="M905.9,301.9 L896.8,286.3 L892.1,274.8 L890.4,264.0 L893.3,253.8 L900.6,246.4 L909.7,242.7 L919.4,242.9 L928.4,246.7 L935.3,254.0 L938.5,264.0 L937.1,274.9 L932.3,286.2 L922.8,300.0 Z" stroke="#000" stroke-width="1.25" fill="none" />
<path d="M914.4,281.6 L913.8,281.5 L913.1,281.2 L912.5,280.8 L911.9,280.2 L911.2,279.5 L910.6,278.8 L910.0,278.0 L909.4,277.2 L908.9,276.4 L908.4,275.6 L907.9,274.8 L907.4,274.0 L907.0,273.2 L906.6,272.3 L906.2,271.4 L905.8,270.4 L905.4,269.5 L905.1,268.7 L904.8,267.8 L904.6,267.0 L904.4,266.2 L904.2,265.5 L904.1,264.8 L903.9,264.1 L903.8,263.4 L903.8,262.7 L903.8,262.0 L903.8,261.4 L903.9,260.7 L904.0,260.0 L904.2,259.3 L904.4,258.5 L904.7,257.8 L905.0,257.0 L905.3,256.2 L905.7,255.5 L906.1,254.8 L906.6,254.1 L907.1,253.5 L907.6,253.0 L908.2,252.5 L908.8,252.0 L909.5,251.6 L910.2,251.2 L910.9,250.9 L911.6,250.6 L912.4,250.3 L913.1,250.2 L913.9,250.0 L914.6,250.0 L915.3,250.0 L916.0,250.2 L916.8,250.3 L917.5,250.6 L918.3,250.9 L919.0,251.2 L919.7,251.6 L920.4,252.0 L921.0,252.5 L921.6,253.0 L922.1,253.5 L922.7,254.1 L923.2,254.8 L923.6,255.5 L924.1,256.2 L924.5,257.0 L924.8,257.8 L925.1,258.5 L925.4,259.3 L925.6,260.0 L925.7,260.7 L925.8,261.4 L925.9,262.0 L925.9,262.7 L925.8,263.4 L925.7,264.1 L925.6,264.8 L925.4,265.5 L925.2,266.2 L925.0,267.0 L924.7,267.8 L924.5,268.7 L924.1,269.5 L923.8,270.4 L923.4,271.4 L923.0,272.3 L922.5,273.2 L922.0,274.0 L921.5,274.8 L921.0,275.6 L920.4,276.4 L919.8,277.2 L919.2,278.0 L918.5,278.8 L917.8,279.5 L917.1,280.2 L916.4,280.8 L915.7,281.2 L915.0,281.5 Z" stroke="#000" stroke-width="1.5" fill="#fff" />
<path d="M943,277 C941,292 932,305 922,315" stroke="#000" stroke-width="2.6" fill="none" />
<rect x="909.6" y="278.6" width="8.2" height="38" fill="#fff" stroke="#000" stroke-width="1.4"/>
<line x1="908.6" y1="278.4" x2="918.8" y2="278.4" stroke="#000" stroke-width="2.4" />
<path d="M901.0,335.0 C898.8,335.7 892.2,337.2 888.0,339.0 C883.8,340.8 879.7,343.3 876.0,346.0 C872.3,348.7 869.3,351.5 866.0,355.0 C862.7,358.5 858.7,362.8 856.0,367.0 C853.3,371.2 851.3,376.2 850.0,380.0 C848.7,383.8 848.3,388.3 848.0,390.0  L848.0,390.0 C849.7,390.3 854.7,392.1 858.0,391.6 C861.3,391.1 865.0,388.9 868.0,387.0 C871.0,385.1 873.0,383.5 876.0,380.0 C879.0,376.5 883.2,370.3 886.0,366.0 C888.8,361.7 890.3,358.5 893.0,354.0 C895.7,349.5 900.5,341.5 902.0,339.0  Z" stroke="#000" stroke-width="2.5" fill="#fff" />
<path d="M901.1,335.4 C899.3,336.0 893.9,337.7 890.5,339.3 C887.1,341.0 883.8,343.0 880.7,345.2 C877.6,347.3 874.6,349.8 871.8,352.4 C869.0,355.1 866.4,357.9 863.9,360.8 C861.4,363.7 858.8,366.6 856.7,369.8 C854.6,373.0 852.8,376.5 851.4,379.8 C849.9,383.2 848.6,388.3 848.0,390.0 " stroke="#000" stroke-width="1.0" fill="none" />
<path d="M901.3,336.3 C899.8,337.2 895.0,339.8 892.0,341.9 C888.9,343.9 886.0,346.3 883.2,348.7 C880.4,351.2 877.7,353.9 875.1,356.7 C872.5,359.4 870.0,362.4 867.5,365.3 C865.0,368.2 862.4,371.1 860.0,374.0 C857.7,376.9 855.4,380.1 853.4,382.8 C851.4,385.5 848.9,388.8 848.0,390.0 " stroke="#000" stroke-width="1.0" fill="none" />
<path d="M901.6,337.3 C900.2,338.5 896.1,341.8 893.4,344.4 C890.8,346.9 888.2,349.6 885.7,352.3 C883.2,355.1 880.8,358.0 878.4,360.9 C875.9,363.8 873.6,366.9 871.1,369.8 C868.6,372.7 866.0,375.6 863.4,378.2 C860.8,380.9 858.1,383.8 855.5,385.7 C852.9,387.7 849.3,389.3 848.0,390.0 " stroke="#000" stroke-width="1.0" fill="none" />
<path d="M901.8,338.2 C900.6,339.6 897.1,343.8 894.9,346.8 C892.6,349.7 890.4,352.7 888.1,355.7 C885.9,358.8 883.8,361.9 881.5,365.0 C879.2,368.0 877.0,371.2 874.6,374.1 C872.1,377.0 869.4,379.9 866.6,382.3 C863.7,384.7 860.6,387.3 857.5,388.6 C854.4,389.9 849.6,389.8 848.0,390.0 " stroke="#000" stroke-width="1.0" fill="none" />
<path d="M901.9,338.7 C900.9,340.3 897.7,345.0 895.7,348.1 C893.6,351.3 891.6,354.5 889.5,357.7 C887.4,360.9 885.4,364.1 883.3,367.2 C881.1,370.4 879.0,373.6 876.5,376.5 C874.0,379.4 871.4,382.3 868.4,384.6 C865.4,386.8 862.0,389.3 858.6,390.2 C855.2,391.1 849.8,390.0 848.0,390.0 " stroke="#000" stroke-width="1.0" fill="none" />
<path d="M889.9,338.4 L888.7,340.4 L892.0,341.9 L892.1,345.8 L894.9,346.8 L894.6,349.8 L896.1,348.8" stroke="#000" stroke-width="1.0" fill="none" />
<path d="M879.7,343.8 L879.1,346.5 L883.2,348.7 L884.4,353.9 L888.1,355.7 L888.4,359.4 L890.2,358.7" stroke="#000" stroke-width="1.0" fill="none" />
<path d="M870.6,350.9 L870.4,353.9 L875.1,356.7 L877.1,362.5 L881.5,365.0 L882.1,368.9 L884.2,368.5" stroke="#000" stroke-width="1.0" fill="none" />
<path d="M862.6,359.1 L862.6,362.4 L867.5,365.3 L869.7,371.3 L874.6,374.1 L875.0,378.0 L877.6,377.8" stroke="#000" stroke-width="1.0" fill="none" />
<path d="M855.4,368.2 L855.7,371.6 L860.0,374.0 L862.0,379.6 L866.6,382.3 L866.6,385.6 L869.4,385.8" stroke="#000" stroke-width="1.0" fill="none" />
<path d="M850.6,378.7 L850.8,381.7 L853.4,382.8 L854.2,386.5 L857.5,388.6 L856.7,390.1 L859.2,391.0" stroke="#000" stroke-width="1.0" fill="none" />
<path d="M926.0,336.0 C928.3,336.5 935.0,337.3 940.0,339.0 C945.0,340.7 951.0,343.2 956.0,346.0 C961.0,348.8 966.0,352.7 970.0,356.0 C974.0,359.3 977.5,362.7 980.0,366.0 C982.5,369.3 984.2,373.5 985.0,376.0 C985.8,378.5 985.0,380.2 985.0,381.0  L985.0,381.0 C983.5,382.2 979.8,387.2 976.0,388.4 C972.2,389.6 966.0,389.1 962.0,388.4 C958.0,387.7 955.3,386.1 952.0,384.0 C948.7,381.9 944.7,380.0 942.0,376.0 C939.3,372.0 938.5,366.0 936.0,360.0 C933.5,354.0 928.5,343.3 927.0,340.0  Z" stroke="#000" stroke-width="2.5" fill="#fff" />
<path d="M926.1,336.4 C927.8,336.9 933.2,338.2 936.6,339.6 C940.1,340.9 943.4,342.5 946.7,344.2 C950.0,345.9 953.2,347.7 956.3,349.8 C959.5,351.8 962.6,354.2 965.6,356.5 C968.6,358.9 971.6,361.3 974.2,363.8 C976.9,366.4 979.7,369.1 981.5,372.0 C983.3,374.8 984.4,379.5 985.0,381.0 " stroke="#000" stroke-width="1.0" fill="none" />
<path d="M926.3,337.3 C927.9,338.2 932.5,340.7 935.5,342.7 C938.4,344.7 941.4,346.9 944.2,349.2 C947.0,351.5 949.5,354.0 952.5,356.4 C955.4,358.8 958.6,361.2 961.7,363.5 C964.8,365.9 968.1,368.2 971.1,370.3 C974.1,372.4 977.5,374.5 979.8,376.3 C982.1,378.1 984.1,380.2 985.0,381.0 " stroke="#000" stroke-width="1.0" fill="none" />
<path d="M926.6,338.3 C927.9,339.5 931.8,343.2 934.3,345.9 C936.8,348.5 939.3,351.3 941.7,354.2 C944.1,357.0 945.9,360.3 948.6,363.0 C951.3,365.8 954.6,368.3 957.9,370.6 C961.1,372.9 964.6,375.1 968.0,376.8 C971.4,378.5 975.3,379.9 978.1,380.6 C980.9,381.3 983.8,380.9 985.0,381.0 " stroke="#000" stroke-width="1.0" fill="none" />
<path d="M926.8,339.2 C927.9,340.8 931.1,345.6 933.2,348.9 C935.2,352.2 937.3,355.5 939.3,359.0 C941.2,362.4 942.4,366.3 944.8,369.4 C947.3,372.5 950.8,375.1 954.2,377.3 C957.5,379.6 961.3,381.8 965.0,383.0 C968.7,384.2 973.1,385.1 976.5,384.8 C979.8,384.5 983.6,381.6 985.0,381.0 " stroke="#000" stroke-width="1.0" fill="none" />
<path d="M926.9,339.7 C927.9,341.5 930.7,346.9 932.5,350.6 C934.4,354.3 936.2,357.9 937.9,361.7 C939.6,365.4 940.4,369.8 942.7,373.0 C945.1,376.2 948.7,378.9 952.1,381.1 C955.5,383.4 959.4,385.5 963.3,386.5 C967.2,387.5 971.9,388.1 975.5,387.1 C979.1,386.2 983.4,382.0 985.0,381.0 " stroke="#000" stroke-width="1.0" fill="none" />
<path d="M937.1,338.4 L938.4,340.4 L935.5,342.7 L935.6,347.4 L933.2,348.9 L933.5,352.6 L932.2,351.5" stroke="#000" stroke-width="1.0" fill="none" />
<path d="M947.6,342.3 L948.4,345.2 L944.2,349.2 L942.9,355.8 L939.3,359.0 L938.8,363.7 L937.2,363.1" stroke="#000" stroke-width="1.0" fill="none" />
<path d="M957.8,347.3 L958.0,351.0 L952.5,356.4 L950.2,364.4 L944.8,369.4 L944.4,374.5 L941.6,374.9" stroke="#000" stroke-width="1.0" fill="none" />
<path d="M967.0,353.9 L967.1,357.8 L961.7,363.5 L959.7,371.7 L954.2,377.3 L954.1,382.1 L951.0,383.2" stroke="#000" stroke-width="1.0" fill="none" />
<path d="M975.4,361.4 L975.6,365.3 L971.1,370.3 L969.8,377.5 L965.0,383.0 L965.5,386.6 L962.4,388.4" stroke="#000" stroke-width="1.0" fill="none" />
<path d="M982.2,370.3 L982.2,373.6 L979.8,376.3 L979.3,380.7 L976.5,384.8 L977.2,386.0 L975.0,388.4" stroke="#000" stroke-width="1.0" fill="none" />
<path d="M940.0,374.0 C941.8,375.8 947.0,382.3 951.0,385.0 C955.0,387.7 959.7,389.2 964.0,390.0 C968.3,390.8 974.8,389.7 977.0,389.6 " stroke="#000" stroke-width="2.2" fill="none" />
<path d="M913.0,332.0 L911.9,332.3 L910.9,332.9 L909.8,333.8 L908.7,335.0 L907.6,336.3 L906.4,337.8 L905.3,339.3 L904.2,340.8 L903.1,342.3 L902.0,343.6 L900.9,344.9 L899.7,346.1 L898.6,347.4 L897.4,348.8 L896.2,350.1 L895.1,351.4 L894.0,352.8 L892.9,354.2 L891.9,355.6 L891.0,357.0 L890.1,358.4 L889.2,359.9 L888.4,361.4 L887.6,362.9 L886.9,364.5 L886.2,366.0 L885.5,367.5 L885.0,369.0 L884.4,370.5 L884.0,372.0 L883.6,373.4 L883.3,374.9 L883.1,376.3 L882.9,377.7 L882.8,379.1 L882.7,380.5 L882.7,381.9 L882.7,383.3 L882.8,384.6 L883.0,386.0 L883.2,387.4 L883.5,388.7 L883.8,390.1 L884.2,391.4 L884.6,392.8 L885.1,394.1 L885.6,395.4 L886.2,396.6 L886.9,397.8 L887.6,399.0 L888.4,400.1 L889.2,401.3 L890.1,402.4 L891.1,403.5 L892.2,404.6 L893.2,405.6 L894.4,406.5 L895.5,407.4 L896.7,408.3 L898.0,409.0 L899.3,409.7 L900.7,410.3 L902.2,410.9 L903.7,411.4 L905.3,411.8 L906.9,412.2 L908.4,412.5 L910.0,412.8 L911.5,412.9 L913.0,413.0 L914.5,413.0 L915.9,412.9 L917.4,412.7 L918.9,412.5 L920.3,412.1 L921.7,411.8 L923.1,411.3 L924.5,410.8 L925.8,410.2 L927.0,409.6 L928.2,408.9 L929.4,408.1 L930.5,407.3 L931.6,406.4 L932.6,405.5 L933.6,404.5 L934.6,403.4 L935.4,402.3 L936.3,401.2 L937.0,400.0 L937.7,398.8 L938.3,397.5 L938.8,396.2 L939.3,394.8 L939.7,393.3 L940.1,391.9 L940.4,390.4 L940.6,388.9 L940.8,387.5 L941.0,386.0 L941.1,384.5 L941.1,383.1 L941.1,381.6 L941.1,380.1 L941.0,378.6 L940.8,377.0 L940.6,375.5 L940.3,374.0 L940.0,372.5 L939.6,371.0 L939.2,369.5 L938.7,368.0 L938.1,366.5 L937.5,364.9 L936.8,363.4 L936.1,361.9 L935.4,360.4 L934.6,358.9 L933.8,357.4 L933.0,356.0 L932.1,354.6 L931.2,353.1 L930.2,351.7 L929.2,350.3 L928.2,348.9 L927.2,347.5 L926.1,346.2 L925.1,344.9 L924.0,343.6 L923.0,342.4 L922.0,341.1 L921.0,339.8 L920.0,338.4 L919.0,337.0 L918.1,335.6 L917.1,334.4 L916.1,333.4 L915.1,332.6 L914.0,332.1 Z" stroke="#000" stroke-width="2.4" fill="#fff" />
<line x1="916.8" y1="364.1" x2="921.9" y2="341.7" stroke="#000" stroke-width="1.25" />
<line x1="920.6" y1="369.3" x2="931.8" y2="355.1" stroke="#000" stroke-width="1.25" />
<line x1="922.5" y1="373.7" x2="937.5" y2="366.5" stroke="#000" stroke-width="1.25" />
<line x1="923.0" y1="378.0" x2="940.3" y2="378.0" stroke="#000" stroke-width="1.25" />
<line x1="922.4" y1="382.2" x2="939.8" y2="390.6" stroke="#000" stroke-width="1.25" />
<line x1="920.3" y1="386.4" x2="933.8" y2="403.4" stroke="#000" stroke-width="1.25" />
<line x1="916.3" y1="389.7" x2="921.2" y2="411.3" stroke="#000" stroke-width="1.25" />
<line x1="911.0" y1="389.6" x2="906.0" y2="411.4" stroke="#000" stroke-width="1.25" />
<line x1="907.0" y1="386.3" x2="892.7" y2="404.2" stroke="#000" stroke-width="1.25" />
<line x1="905.2" y1="382.1" x2="884.9" y2="391.8" stroke="#000" stroke-width="1.25" />
<line x1="905.1" y1="378.0" x2="883.5" y2="378.0" stroke="#000" stroke-width="1.25" />
<line x1="906.1" y1="374.4" x2="887.2" y2="365.3" stroke="#000" stroke-width="1.25" />
<line x1="907.7" y1="370.6" x2="894.1" y2="353.6" stroke="#000" stroke-width="1.25" />
<line x1="910.6" y1="364.8" x2="905.0" y2="340.5" stroke="#000" stroke-width="1.25" />
<path d="M918.7,355.8 L924.8,364.0 L928.1,371.0 L929.5,378.0 L928.8,385.3 L925.3,392.7 L918.1,397.7 L909.1,397.7 L901.7,392.9 L897.7,385.7 L897.1,378.0 L899.1,371.0 L902.7,364.3 L908.5,355.8 Z" stroke="#000" stroke-width="1.25" fill="none" />
<path d="M920.4,348.0 L928.7,359.1 L933.4,368.5 L935.5,378.0 L934.9,388.3 L930.0,398.6 L919.8,405.2 L907.4,405.3 L896.7,399.2 L890.6,389.1 L889.5,378.0 L892.5,367.8 L897.9,358.4 L906.6,347.4 Z" stroke="#000" stroke-width="1.25" fill="none" />
<path d="M913.6,362.0 L913.0,362.1 L912.3,362.6 L911.7,363.2 L911.1,364.0 L910.5,364.9 L910.0,366.0 L909.4,367.0 L908.9,368.1 L908.4,369.1 L908.0,370.0 L907.6,370.9 L907.2,371.8 L906.8,372.7 L906.4,373.6 L906.0,374.5 L905.7,375.5 L905.5,376.4 L905.2,377.3 L905.1,378.2 L905.0,379.0 L905.0,379.8 L905.0,380.6 L905.1,381.4 L905.2,382.2 L905.4,383.0 L905.6,383.8 L905.9,384.5 L906.2,385.2 L906.6,385.8 L907.0,386.4 L907.5,387.0 L908.0,387.5 L908.6,388.1 L909.3,388.6 L910.0,389.1 L910.8,389.5 L911.5,389.9 L912.2,390.1 L912.9,390.3 L913.6,390.4 L914.3,390.4 L914.9,390.2 L915.6,390.0 L916.3,389.7 L917.0,389.3 L917.7,388.9 L918.3,388.4 L918.9,387.9 L919.5,387.4 L920.0,386.8 L920.5,386.2 L920.9,385.5 L921.3,384.8 L921.7,384.0 L922.0,383.2 L922.3,382.4 L922.6,381.6 L922.8,380.7 L922.9,379.8 L923.0,379.0 L923.0,378.1 L923.0,377.3 L922.9,376.4 L922.8,375.4 L922.6,374.5 L922.4,373.6 L922.2,372.7 L921.8,371.8 L921.4,370.9 L921.0,370.0 L920.5,369.1 L919.8,368.1 L919.1,367.0 L918.3,366.0 L917.5,364.9 L916.7,364.0 L915.9,363.2 L915.1,362.6 L914.3,362.1 Z" stroke="#000" stroke-width="1.5" fill="#fff" />
<path d="M884.5,394 C889,405 899,412.5 912,414.5 C924,414 933,408 938,398" stroke="#000" stroke-width="2.6" fill="none" />
<path d="M910,338 L908.5,358 L913,362.5 L917.5,358 L916,338" stroke="#000" stroke-width="1.2" fill="#fff" />
<path d="M905.0,317.0 C903.5,313.3 899.2,301.0 896.0,295.0 C892.8,289.0 889.3,285.0 886.0,281.0 C882.7,277.0 879.3,273.7 876.0,271.0 C872.7,268.3 869.3,266.3 866.0,265.0 C862.7,263.7 859.0,263.3 856.0,263.0 C853.0,262.7 850.0,262.6 848.0,263.0 C846.0,263.4 844.7,265.0 844.0,265.4  L844.0,265.4 C844.1,266.3 843.7,268.9 844.4,271.0 C845.1,273.1 846.4,275.3 848.0,278.0 C849.6,280.7 851.7,284.0 854.0,287.0 C856.3,290.0 859.0,293.2 862.0,296.0 C865.0,298.8 868.0,301.3 872.0,304.0 C876.0,306.7 881.2,309.2 886.0,312.0 C890.8,314.8 898.5,319.5 901.0,321.0  Z" stroke="#000" stroke-width="2.5" fill="#fff" />
<path d="M904.6,317.4 C903.8,315.5 901.1,309.8 899.3,306.0 C897.5,302.3 895.9,298.4 893.6,294.9 C891.4,291.4 888.7,288.1 886.0,284.9 C883.2,281.7 880.3,278.5 877.2,275.7 C874.0,272.9 870.7,270.1 867.0,268.2 C863.4,266.3 859.2,264.7 855.3,264.2 C851.5,263.8 845.9,265.2 844.0,265.4 " stroke="#000" stroke-width="1.0" fill="none" />
<path d="M903.7,318.3 C902.6,316.7 899.3,311.7 897.1,308.4 C894.8,305.1 892.8,301.7 890.2,298.6 C887.7,295.5 884.8,292.6 881.9,289.6 C879.0,286.6 876.1,283.6 873.0,280.9 C870.0,278.1 866.8,275.3 863.5,273.0 C860.2,270.8 856.5,268.8 853.2,267.5 C850.0,266.2 845.5,265.7 844.0,265.4 " stroke="#000" stroke-width="1.0" fill="none" />
<path d="M902.7,319.3 C901.4,317.9 897.5,313.5 894.9,310.7 C892.2,307.9 889.6,305.0 886.8,302.3 C884.0,299.6 880.8,297.1 877.8,294.3 C874.8,291.6 871.9,288.8 868.9,286.1 C865.9,283.3 862.9,280.4 860.0,277.8 C857.0,275.3 853.7,272.8 851.1,270.7 C848.4,268.6 845.2,266.3 844.0,265.4 " stroke="#000" stroke-width="1.0" fill="none" />
<path d="M901.8,320.2 C900.3,319.0 895.8,315.4 892.7,313.0 C889.7,310.6 886.6,308.2 883.5,305.9 C880.4,303.5 877.0,301.4 873.9,298.9 C870.8,296.4 867.8,293.8 864.9,291.0 C862.0,288.3 859.2,285.3 856.6,282.4 C853.9,279.6 851.1,276.7 849.0,273.8 C846.9,271.0 844.8,266.8 844.0,265.4 " stroke="#000" stroke-width="1.0" fill="none" />
<path d="M901.3,320.7 C899.7,319.6 894.8,316.4 891.5,314.2 C888.2,312.1 885.0,310.0 881.7,307.9 C878.4,305.7 874.9,303.8 871.7,301.5 C868.6,299.1 865.5,296.6 862.6,293.8 C859.8,291.1 857.1,288.1 854.7,285.1 C852.2,282.0 849.6,278.9 847.9,275.6 C846.1,272.3 844.6,267.1 844.0,265.4 " stroke="#000" stroke-width="1.0" fill="none" />
<path d="M900.2,305.1 L898.3,304.0 L897.1,308.4 L893.4,309.2 L892.7,313.0 L889.7,313.1 L890.9,314.9" stroke="#000" stroke-width="1.0" fill="none" />
<path d="M894.9,293.5 L892.3,293.1 L890.2,298.6 L885.2,300.9 L883.5,305.9 L879.9,306.7 L880.7,308.9" stroke="#000" stroke-width="1.0" fill="none" />
<path d="M887.5,283.1 L884.4,283.2 L881.9,289.6 L876.2,292.9 L873.9,298.9 L870.1,300.1 L870.6,302.8" stroke="#000" stroke-width="1.0" fill="none" />
<path d="M878.8,273.8 L875.4,274.4 L873.0,280.9 L867.3,284.6 L864.9,291.0 L861.2,292.3 L861.4,295.3" stroke="#000" stroke-width="1.0" fill="none" />
<path d="M868.4,266.4 L864.9,267.5 L863.5,273.0 L858.4,276.6 L856.6,282.4 L853.4,283.3 L853.6,286.5" stroke="#000" stroke-width="1.0" fill="none" />
<path d="M856.1,263.0 L853.3,264.5 L853.2,267.5 L849.8,269.8 L849.0,273.8 L847.2,273.7 L847.2,276.5" stroke="#000" stroke-width="1.0" fill="none" />
<path d="M903.0,316.0 C901.5,312.8 897.2,302.3 894.0,297.0 C890.8,291.7 887.3,287.8 884.0,284.0 C880.7,280.2 877.3,277.1 874.0,274.4 C870.7,271.7 867.2,269.5 864.0,268.0 C860.8,266.5 857.8,266.0 855.0,265.6 C852.2,265.2 848.3,265.6 847.0,265.6 " stroke="#000" stroke-width="1.2" fill="none" />
<ellipse cx="903.0" cy="319.6" rx="3.2" ry="2.4" stroke="#000" stroke-width="0" fill="#000" />
<path d="M934.0,322.0 C935.3,319.3 939.0,311.0 942.0,306.0 C945.0,301.0 948.3,296.2 952.0,292.0 C955.7,287.8 960.0,284.3 964.0,281.0 C968.0,277.7 972.0,274.3 976.0,272.0 C980.0,269.7 984.2,268.2 988.0,267.0 C991.8,265.8 997.2,265.3 999.0,265.0  L999.6,267.0 C998.8,268.8 997.3,274.2 995.0,278.0 C992.7,281.8 989.5,286.0 986.0,290.0 C982.5,294.0 978.3,298.2 974.0,302.0 C969.7,305.8 964.3,309.8 960.0,313.0 C955.7,316.2 951.8,318.8 948.0,321.0 C944.2,323.2 938.8,325.5 937.0,326.4  Z" stroke="#000" stroke-width="2.5" fill="#fff" />
<path d="M934.3,322.4 C935.3,320.6 938.3,315.0 940.6,311.4 C942.8,307.8 945.2,304.2 947.7,300.8 C950.3,297.4 953.0,294.1 956.0,291.0 C959.0,287.9 962.3,285.1 965.6,282.3 C968.8,279.5 972.2,276.7 975.8,274.4 C979.4,272.1 983.2,270.2 987.1,268.7 C991.0,267.1 997.1,265.8 999.1,265.2 " stroke="#000" stroke-width="1.0" fill="none" />
<path d="M935.0,323.5 C936.3,321.9 940.0,317.1 942.6,313.8 C945.2,310.6 947.9,307.4 950.7,304.2 C953.5,301.1 956.3,297.9 959.4,295.0 C962.4,292.0 965.7,289.2 968.9,286.4 C972.1,283.6 975.4,280.7 978.7,278.2 C982.1,275.7 985.7,273.4 989.1,271.3 C992.5,269.2 997.5,266.6 999.2,265.7 " stroke="#000" stroke-width="1.0" fill="none" />
<path d="M935.7,324.5 C937.2,323.1 941.7,319.1 944.6,316.3 C947.6,313.5 950.6,310.5 953.6,307.6 C956.6,304.7 959.6,301.8 962.8,298.9 C965.9,296.1 969.1,293.3 972.3,290.4 C975.4,287.6 978.6,284.7 981.7,281.9 C984.8,279.2 988.1,276.5 991.1,273.9 C994.0,271.2 998.0,267.4 999.3,266.1 " stroke="#000" stroke-width="1.0" fill="none" />
<path d="M936.4,325.5 C938.1,324.4 943.3,321.2 946.6,318.7 C949.9,316.3 953.1,313.6 956.4,310.9 C959.6,308.3 962.8,305.5 966.0,302.8 C969.2,300.0 972.4,297.2 975.5,294.4 C978.6,291.5 981.6,288.5 984.5,285.5 C987.4,282.5 990.4,279.5 992.9,276.4 C995.4,273.2 998.4,268.2 999.5,266.6 " stroke="#000" stroke-width="1.0" fill="none" />
<path d="M936.8,326.1 C938.6,325.1 944.2,322.3 947.7,320.1 C951.2,317.9 954.6,315.3 958.0,312.8 C961.3,310.3 964.6,307.6 967.8,304.9 C971.0,302.2 974.2,299.4 977.3,296.6 C980.3,293.7 983.4,290.7 986.1,287.6 C988.9,284.4 991.8,281.3 994.0,277.8 C996.2,274.3 998.6,268.7 999.6,266.9 " stroke="#000" stroke-width="1.0" fill="none" />
<path d="M939.8,310.4 L941.8,309.5 L942.6,313.8 L946.3,314.8 L946.6,318.7 L949.6,318.8 L948.3,320.8" stroke="#000" stroke-width="1.0" fill="none" />
<path d="M946.6,299.5 L949.2,299.0 L950.7,304.2 L955.2,306.1 L956.4,310.9 L959.7,311.4 L958.8,313.8" stroke="#000" stroke-width="1.0" fill="none" />
<path d="M954.7,289.5 L957.7,289.4 L959.4,295.0 L964.5,297.4 L966.0,302.8 L969.5,303.4 L968.8,306.1" stroke="#000" stroke-width="1.0" fill="none" />
<path d="M964.3,280.8 L967.4,280.9 L968.9,286.4 L974.0,288.9 L975.5,294.4 L978.9,294.9 L978.3,297.7" stroke="#000" stroke-width="1.0" fill="none" />
<path d="M974.6,273.0 L977.8,273.4 L978.7,278.2 L983.4,280.5 L984.5,285.5 L987.6,285.8 L987.0,288.7" stroke="#000" stroke-width="1.0" fill="none" />
<path d="M986.4,267.7 L989.3,268.0 L989.1,271.3 L992.5,272.5 L992.9,276.4 L995.0,275.8 L994.6,278.6" stroke="#000" stroke-width="1.0" fill="none" />
<path d="M940.0,313.0 C941.7,310.5 946.5,302.3 950.0,298.0 C953.5,293.7 957.0,290.5 961.0,287.0 C965.0,283.5 969.8,279.7 974.0,277.0 C978.2,274.3 982.2,272.1 986.0,270.6 C989.8,269.1 995.2,268.4 997.0,268.0 " stroke="#000" stroke-width="1.2" fill="none" />
<ellipse cx="935.4" cy="324.0" rx="3.6" ry="3.0" stroke="#000" stroke-width="0" fill="#000" transform="rotate(-40 935.4 324.0)" />
<ellipse cx="913.0" cy="327.0" rx="15.6" ry="14.6" stroke="#000" stroke-width="1.6" fill="#fff" />
<ellipse cx="913.0" cy="331.0" rx="3.0" ry="3.0" stroke="#000" stroke-width="2.6" fill="#fff" />
<ellipse cx="913.0" cy="331.0" rx="1.1" ry="1.1" stroke="#000" stroke-width="0" fill="#000" />
<path d="M905,339.5 C909,337 917,337 921,339.5" stroke="#000" stroke-width="2.6" fill="none" />
<ellipse cx="903.0" cy="320.0" rx="3.0" ry="2.2" stroke="#000" stroke-width="0" fill="#000" transform="rotate(40 903.0 320.0)" />
<rect x="910.3" y="300" width="6.8" height="15" fill="#fff"/>
<path d="M909.6,300 L909.6,314 M917.8,300 L917.8,314" stroke="#000" stroke-width="1.4" fill="none" />
<path d="M951.0,324.4 C950.9,321.7 950.2,314.1 950.4,308.0 C950.6,301.9 951.1,294.7 952.0,288.0 C952.9,281.3 954.5,273.3 956.0,268.0 C957.5,262.7 959.3,257.8 961.0,256.0 C962.7,254.2 964.8,255.8 966.0,257.0 C967.2,258.2 968.0,262.0 968.4,263.0 " stroke="#000" stroke-width="1.1" fill="none" />
<polygon points="969.4,277.0 961.6,258.5 968.2,260.3 974.6,257.6" fill="#000"/>
<line x1="981.0" y1="308.0" x2="960.3" y2="322.3" stroke="#000" stroke-width="1.3" />
<polygon points="954.4,326.4 962.2,316.6 963.1,320.4 966.3,322.5" fill="#000"/>
<ellipse cx="982.4" cy="322.0" rx="9.8" ry="9.8" stroke="#000" stroke-width="1.1" fill="#fff" />
<text x="982.4" y="328.9" font-family="Liberation Serif" font-size="21" text-anchor="middle" fill="#000" >9</text>
<path d="M867,447 C867.5,475 887,496.5 914,496.5 C941,496.5 960.5,475 961,447" stroke="#000" stroke-width="1.5" fill="#fff" />
<path d="M867.3,452 C870,460.5 890,464.5 914,464.5 C938,464.5 958,460.5 960.7,452" stroke="#000" stroke-width="1.5" fill="none" />
<ellipse cx="914.0" cy="446.0" rx="47.0" ry="12.0" stroke="#000" stroke-width="1.6" fill="#fff" />
<ellipse cx="914.0" cy="446.4" rx="9.0" ry="2.4" stroke="#000" stroke-width="1.3" fill="#fff" />
<rect x="909.6" y="414" width="8.6" height="32.5" fill="#fff"/>
<path d="M909.4,414.5 L909.4,447 M918.4,414.5 L918.4,447" stroke="#000" stroke-width="1.4" fill="none" />
</svg>
</body></html>
